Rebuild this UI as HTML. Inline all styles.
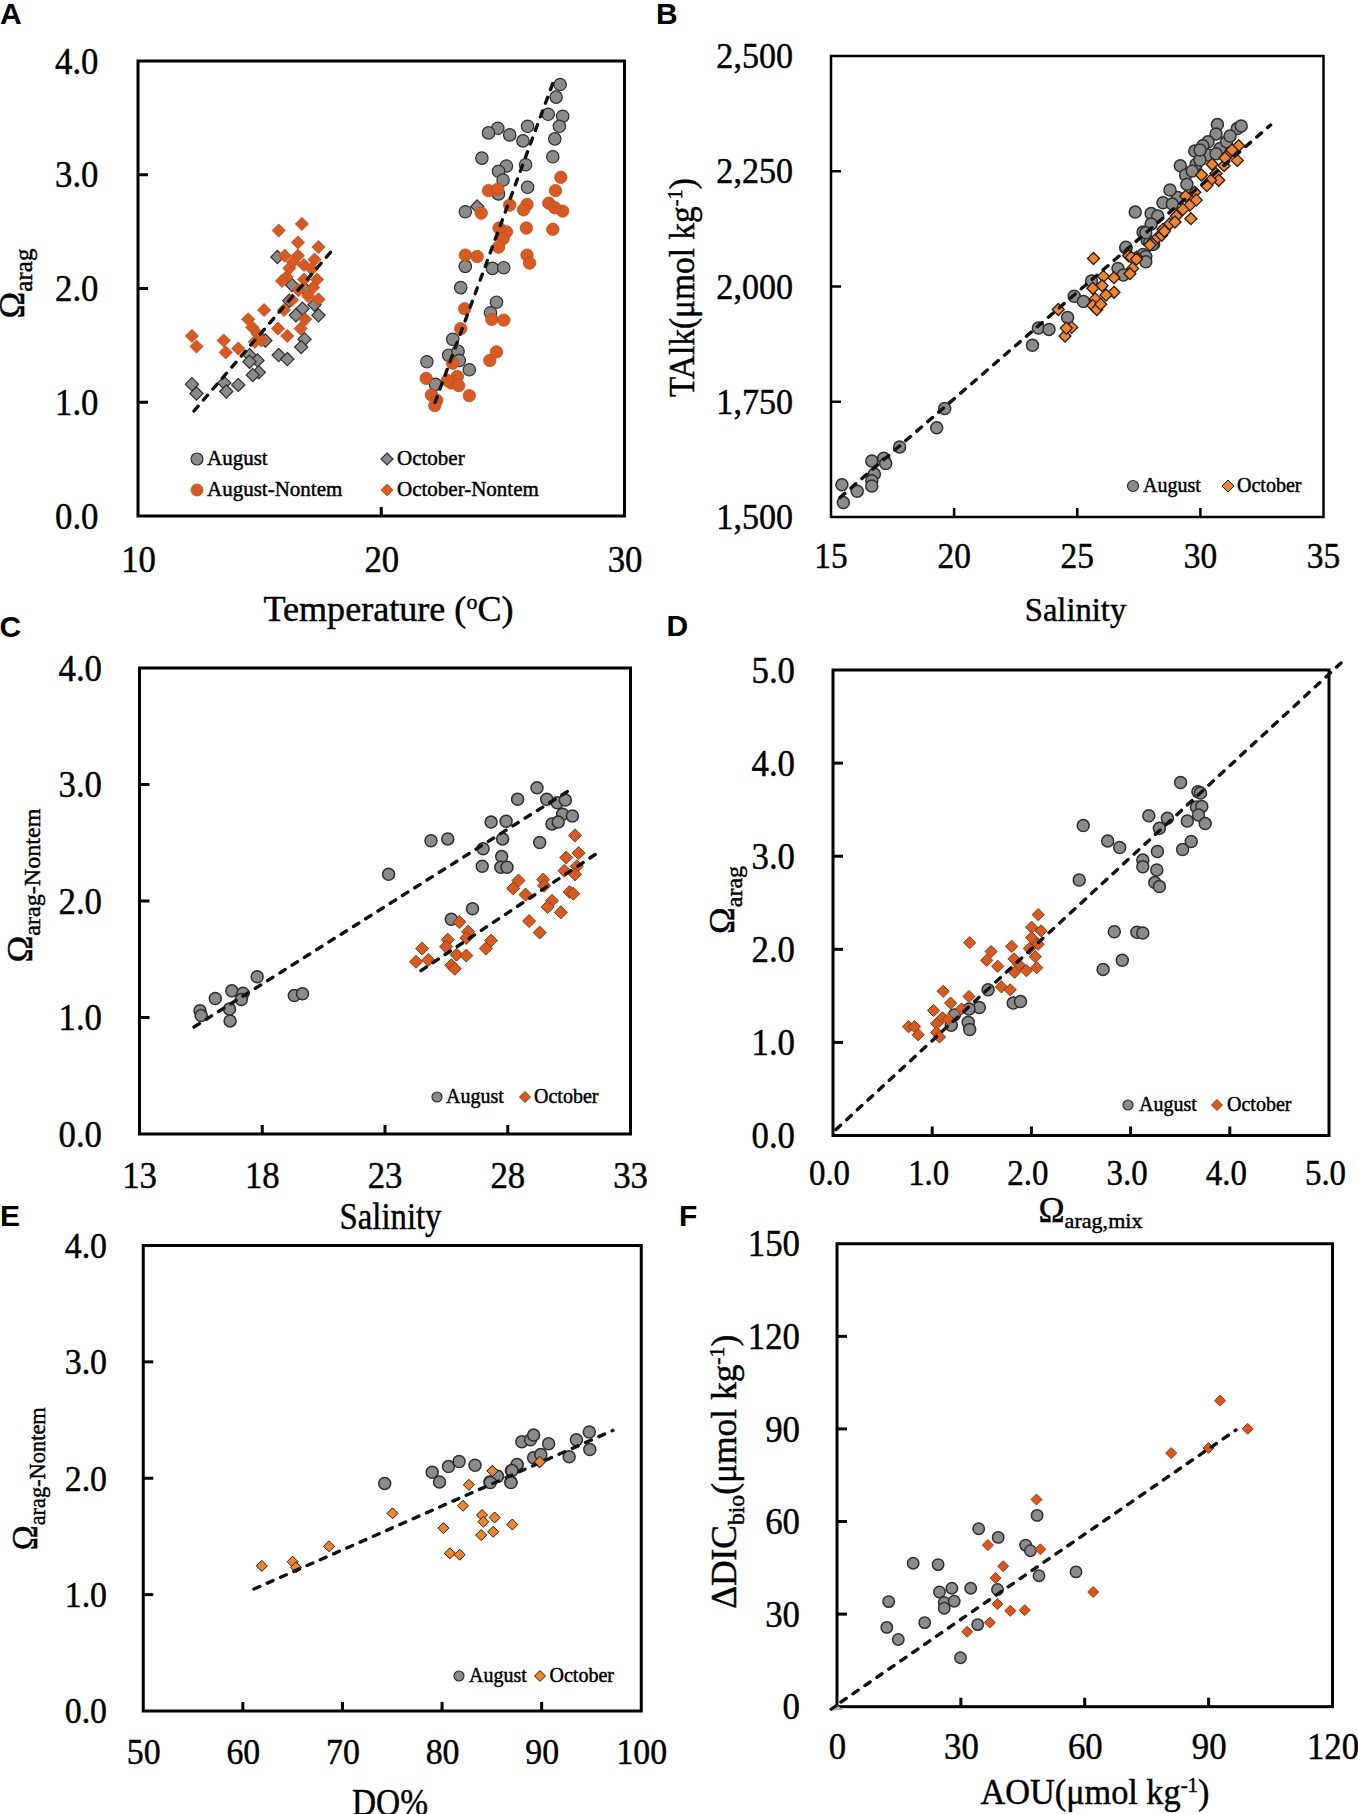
<!DOCTYPE html>
<html><head><meta charset="utf-8"><style>
html,body{margin:0;padding:0;background:#fff;}
svg{display:block;}
text{stroke:#000;stroke-width:0.45px;}
text[font-weight="bold"]{stroke:none;}
</style></head><body>
<svg width="1358" height="1814" viewBox="0 0 1358 1814">
<rect width="1358" height="1814" fill="#fff"/>
<g>
<text x="0" y="24" text-anchor="start" font-size="30" font-weight="bold" font-family='"Liberation Sans", sans-serif' >A</text>
<text x="656" y="24.3" text-anchor="start" font-size="30" font-weight="bold" font-family='"Liberation Sans", sans-serif' >B</text>
<text x="-0.5" y="637" text-anchor="start" font-size="30" font-weight="bold" font-family='"Liberation Sans", sans-serif' >C</text>
<text x="666.6" y="636.4" text-anchor="start" font-size="30" font-weight="bold" font-family='"Liberation Sans", sans-serif' >D</text>
<text x="0" y="1226.4" text-anchor="start" font-size="30" font-weight="bold" font-family='"Liberation Sans", sans-serif' >E</text>
<text x="679" y="1226.4" text-anchor="start" font-size="30" font-weight="bold" font-family='"Liberation Sans", sans-serif' >F</text>
<rect x="138" y="61" width="486.5" height="455" fill="none" stroke="#000" stroke-width="3"/>
<text transform="translate(98.5,516.0) scale(0.94,1)" dy="0.34em" text-anchor="end" font-size="37" font-family='"Liberation Serif", serif'>0.0</text>
<line x1="138" y1="402.25" x2="148" y2="402.25" stroke="#000" stroke-width="3"/>
<text transform="translate(98.5,402.25) scale(0.94,1)" dy="0.34em" text-anchor="end" font-size="37" font-family='"Liberation Serif", serif'>1.0</text>
<line x1="138" y1="288.5" x2="148" y2="288.5" stroke="#000" stroke-width="3"/>
<text transform="translate(98.5,288.5) scale(0.94,1)" dy="0.34em" text-anchor="end" font-size="37" font-family='"Liberation Serif", serif'>2.0</text>
<line x1="138" y1="174.75" x2="148" y2="174.75" stroke="#000" stroke-width="3"/>
<text transform="translate(98.5,174.75) scale(0.94,1)" dy="0.34em" text-anchor="end" font-size="37" font-family='"Liberation Serif", serif'>3.0</text>
<text transform="translate(98.5,61.0) scale(0.94,1)" dy="0.34em" text-anchor="end" font-size="37" font-family='"Liberation Serif", serif'>4.0</text>
<text transform="translate(138.5,572) scale(0.94,1)" text-anchor="middle" font-size="37" font-family='"Liberation Serif", serif'>10</text>
<line x1="381.25" y1="516" x2="381.25" y2="507" stroke="#000" stroke-width="3"/>
<text transform="translate(381.75,572) scale(0.94,1)" text-anchor="middle" font-size="37" font-family='"Liberation Serif", serif'>20</text>
<text transform="translate(625.0,572) scale(0.94,1)" text-anchor="middle" font-size="37" font-family='"Liberation Serif", serif'>30</text>
<text x="388.5" y="620.5" text-anchor="middle" font-size="36" font-weight="normal" font-family='"Liberation Serif", serif' textLength="250" lengthAdjust="spacingAndGlyphs" >Temperature (<tspan baseline-shift="super" font-size="22">o</tspan>C)</text>
<text transform="translate(24,283.5) rotate(-90)" text-anchor="middle" font-size="36" font-family='"Liberation Serif", serif'>Ω<tspan font-size="25" dy="8">arag</tspan></text>
<path d="M277.4 250.4L284.0 257.0L277.4 263.6L270.8 257.0Z" fill="#8b8b8b" stroke="#2e2e2e" stroke-width="1.2"/>
<path d="M302.5 302.1L309.1 308.7L302.5 315.3L295.9 308.7Z" fill="#8b8b8b" stroke="#2e2e2e" stroke-width="1.2"/>
<path d="M295.9 308.7L302.5 315.3L295.9 321.9L289.3 315.3Z" fill="#8b8b8b" stroke="#2e2e2e" stroke-width="1.2"/>
<path d="M318.5 308.7L325.1 315.3L318.5 321.9L311.9 315.3Z" fill="#8b8b8b" stroke="#2e2e2e" stroke-width="1.2"/>
<path d="M314.5 298.1L321.1 304.7L314.5 311.3L307.9 304.7Z" fill="#8b8b8b" stroke="#2e2e2e" stroke-width="1.2"/>
<path d="M304.5 332.6L311.1 339.2L304.5 345.8L297.9 339.2Z" fill="#8b8b8b" stroke="#2e2e2e" stroke-width="1.2"/>
<path d="M301.2 340.5L307.8 347.1L301.2 353.7L294.6 347.1Z" fill="#8b8b8b" stroke="#2e2e2e" stroke-width="1.2"/>
<path d="M278.7 348.5L285.3 355.1L278.7 361.7L272.1 355.1Z" fill="#8b8b8b" stroke="#2e2e2e" stroke-width="1.2"/>
<path d="M287.3 352.5L293.9 359.1L287.3 365.7L280.7 359.1Z" fill="#8b8b8b" stroke="#2e2e2e" stroke-width="1.2"/>
<path d="M249.5 348.5L256.1 355.1L249.5 361.7L242.9 355.1Z" fill="#8b8b8b" stroke="#2e2e2e" stroke-width="1.2"/>
<path d="M257.5 353.8L264.1 360.4L257.5 367.0L250.9 360.4Z" fill="#8b8b8b" stroke="#2e2e2e" stroke-width="1.2"/>
<path d="M249.5 355.1L256.1 361.7L249.5 368.3L242.9 361.7Z" fill="#8b8b8b" stroke="#2e2e2e" stroke-width="1.2"/>
<path d="M258.8 365.7L265.4 372.3L258.8 378.9L252.2 372.3Z" fill="#8b8b8b" stroke="#2e2e2e" stroke-width="1.2"/>
<path d="M252.8 368.4L259.4 375.0L252.8 381.6L246.2 375.0Z" fill="#8b8b8b" stroke="#2e2e2e" stroke-width="1.2"/>
<path d="M238.3 378.3L244.9 384.9L238.3 391.5L231.7 384.9Z" fill="#8b8b8b" stroke="#2e2e2e" stroke-width="1.2"/>
<path d="M224.3 376.3L230.9 382.9L224.3 389.5L217.7 382.9Z" fill="#8b8b8b" stroke="#2e2e2e" stroke-width="1.2"/>
<path d="M226.3 384.9L232.9 391.5L226.3 398.1L219.7 391.5Z" fill="#8b8b8b" stroke="#2e2e2e" stroke-width="1.2"/>
<path d="M191.9 377.6L198.5 384.2L191.9 390.8L185.3 384.2Z" fill="#8b8b8b" stroke="#2e2e2e" stroke-width="1.2"/>
<path d="M196.5 386.9L203.1 393.5L196.5 400.1L189.9 393.5Z" fill="#8b8b8b" stroke="#2e2e2e" stroke-width="1.2"/>
<path d="M265.4 333.9L272.0 340.5L265.4 347.1L258.8 340.5Z" fill="#8b8b8b" stroke="#2e2e2e" stroke-width="1.2"/>
<path d="M289.3 294.1L295.9 300.7L289.3 307.3L282.7 300.7Z" fill="#8b8b8b" stroke="#2e2e2e" stroke-width="1.2"/>
<path d="M292.0 278.4L298.6 285.0L292.0 291.6L285.4 285.0Z" fill="#8b8b8b" stroke="#2e2e2e" stroke-width="1.2"/>
<path d="M306.0 283.4L312.6 290.0L306.0 296.6L299.4 290.0Z" fill="#8b8b8b" stroke="#2e2e2e" stroke-width="1.2"/>
<path d="M278.7 223.9L285.3 230.5L278.7 237.1L272.1 230.5Z" fill="#d65a22" stroke="#c24c1a" stroke-width="0.8"/>
<path d="M301.9 217.3L308.5 223.9L301.9 230.5L295.3 223.9Z" fill="#d65a22" stroke="#c24c1a" stroke-width="0.8"/>
<path d="M297.9 235.8L304.5 242.4L297.9 249.0L291.3 242.4Z" fill="#d65a22" stroke="#c24c1a" stroke-width="0.8"/>
<path d="M318.5 240.4L325.1 247.0L318.5 253.6L311.9 247.0Z" fill="#d65a22" stroke="#c24c1a" stroke-width="0.8"/>
<path d="M284.7 249.1L291.3 255.7L284.7 262.3L278.1 255.7Z" fill="#d65a22" stroke="#c24c1a" stroke-width="0.8"/>
<path d="M297.9 249.1L304.5 255.7L297.9 262.3L291.3 255.7Z" fill="#d65a22" stroke="#c24c1a" stroke-width="0.8"/>
<path d="M314.5 253.0L321.1 259.6L314.5 266.2L307.9 259.6Z" fill="#d65a22" stroke="#c24c1a" stroke-width="0.8"/>
<path d="M289.3 261.7L295.9 268.3L289.3 274.9L282.7 268.3Z" fill="#d65a22" stroke="#c24c1a" stroke-width="0.8"/>
<path d="M303.9 258.4L310.5 265.0L303.9 271.6L297.3 265.0Z" fill="#d65a22" stroke="#c24c1a" stroke-width="0.8"/>
<path d="M311.8 262.3L318.4 268.9L311.8 275.5L305.2 268.9Z" fill="#d65a22" stroke="#c24c1a" stroke-width="0.8"/>
<path d="M286.6 270.3L293.2 276.9L286.6 283.5L280.0 276.9Z" fill="#d65a22" stroke="#c24c1a" stroke-width="0.8"/>
<path d="M282.0 274.3L288.6 280.9L282.0 287.5L275.4 280.9Z" fill="#d65a22" stroke="#c24c1a" stroke-width="0.8"/>
<path d="M303.9 272.9L310.5 279.5L303.9 286.1L297.3 279.5Z" fill="#d65a22" stroke="#c24c1a" stroke-width="0.8"/>
<path d="M317.1 272.9L323.7 279.5L317.1 286.1L310.5 279.5Z" fill="#d65a22" stroke="#c24c1a" stroke-width="0.8"/>
<path d="M298.6 283.5L305.2 290.1L298.6 296.7L292.0 290.1Z" fill="#d65a22" stroke="#c24c1a" stroke-width="0.8"/>
<path d="M313.2 280.9L319.8 287.5L313.2 294.1L306.6 287.5Z" fill="#d65a22" stroke="#c24c1a" stroke-width="0.8"/>
<path d="M318.5 292.8L325.1 299.4L318.5 306.0L311.9 299.4Z" fill="#d65a22" stroke="#c24c1a" stroke-width="0.8"/>
<path d="M284.0 303.4L290.6 310.0L284.0 316.6L277.4 310.0Z" fill="#d65a22" stroke="#c24c1a" stroke-width="0.8"/>
<path d="M264.1 303.4L270.7 310.0L264.1 316.6L257.5 310.0Z" fill="#d65a22" stroke="#c24c1a" stroke-width="0.8"/>
<path d="M305.2 312.7L311.8 319.3L305.2 325.9L298.6 319.3Z" fill="#d65a22" stroke="#c24c1a" stroke-width="0.8"/>
<path d="M300.6 322.0L307.2 328.6L300.6 335.2L294.0 328.6Z" fill="#d65a22" stroke="#c24c1a" stroke-width="0.8"/>
<path d="M278.0 322.0L284.6 328.6L278.0 335.2L271.4 328.6Z" fill="#d65a22" stroke="#c24c1a" stroke-width="0.8"/>
<path d="M287.3 329.3L293.9 335.9L287.3 342.5L280.7 335.9Z" fill="#d65a22" stroke="#c24c1a" stroke-width="0.8"/>
<path d="M248.2 312.7L254.8 319.3L248.2 325.9L241.6 319.3Z" fill="#d65a22" stroke="#c24c1a" stroke-width="0.8"/>
<path d="M252.2 320.7L258.8 327.3L252.2 333.9L245.6 327.3Z" fill="#d65a22" stroke="#c24c1a" stroke-width="0.8"/>
<path d="M257.5 327.3L264.1 333.9L257.5 340.5L250.9 333.9Z" fill="#d65a22" stroke="#c24c1a" stroke-width="0.8"/>
<path d="M254.8 335.2L261.4 341.8L254.8 348.4L248.2 341.8Z" fill="#d65a22" stroke="#c24c1a" stroke-width="0.8"/>
<path d="M261.5 333.9L268.1 340.5L261.5 347.1L254.9 340.5Z" fill="#d65a22" stroke="#c24c1a" stroke-width="0.8"/>
<path d="M191.9 329.3L198.5 335.9L191.9 342.5L185.3 335.9Z" fill="#d65a22" stroke="#c24c1a" stroke-width="0.8"/>
<path d="M196.5 339.9L203.1 346.5L196.5 353.1L189.9 346.5Z" fill="#d65a22" stroke="#c24c1a" stroke-width="0.8"/>
<path d="M223.7 333.9L230.3 340.5L223.7 347.1L217.1 340.5Z" fill="#d65a22" stroke="#c24c1a" stroke-width="0.8"/>
<path d="M225.7 345.8L232.3 352.4L225.7 359.0L219.1 352.4Z" fill="#d65a22" stroke="#c24c1a" stroke-width="0.8"/>
<path d="M238.3 341.9L244.9 348.5L238.3 355.1L231.7 348.5Z" fill="#d65a22" stroke="#c24c1a" stroke-width="0.8"/>
<path d="M292.0 293.4L298.6 300.0L292.0 306.6L285.4 300.0Z" fill="#d65a22" stroke="#c24c1a" stroke-width="0.8"/>
<path d="M308.0 289.4L314.6 296.0L308.0 302.6L301.4 296.0Z" fill="#d65a22" stroke="#c24c1a" stroke-width="0.8"/>
<path d="M293.0 255.4L299.6 262.0L293.0 268.6L286.4 262.0Z" fill="#d65a22" stroke="#c24c1a" stroke-width="0.8"/>
<circle cx="560.1" cy="84.5" r="6.2" fill="#8b8b8b" stroke="#2e2e2e" stroke-width="1.2"/>
<circle cx="556.1" cy="97.1" r="6.2" fill="#8b8b8b" stroke="#2e2e2e" stroke-width="1.2"/>
<circle cx="548.2" cy="114.3" r="6.2" fill="#8b8b8b" stroke="#2e2e2e" stroke-width="1.2"/>
<circle cx="562.7" cy="116.3" r="6.2" fill="#8b8b8b" stroke="#2e2e2e" stroke-width="1.2"/>
<circle cx="559.4" cy="126.3" r="6.2" fill="#8b8b8b" stroke="#2e2e2e" stroke-width="1.2"/>
<circle cx="554.8" cy="138.9" r="6.2" fill="#8b8b8b" stroke="#2e2e2e" stroke-width="1.2"/>
<circle cx="552.8" cy="156.8" r="6.2" fill="#8b8b8b" stroke="#2e2e2e" stroke-width="1.2"/>
<circle cx="527.6" cy="126.3" r="6.2" fill="#8b8b8b" stroke="#2e2e2e" stroke-width="1.2"/>
<circle cx="523" cy="140.9" r="6.2" fill="#8b8b8b" stroke="#2e2e2e" stroke-width="1.2"/>
<circle cx="509.7" cy="134.9" r="6.2" fill="#8b8b8b" stroke="#2e2e2e" stroke-width="1.2"/>
<circle cx="497.8" cy="128.3" r="6.2" fill="#8b8b8b" stroke="#2e2e2e" stroke-width="1.2"/>
<circle cx="488.5" cy="132.9" r="6.2" fill="#8b8b8b" stroke="#2e2e2e" stroke-width="1.2"/>
<circle cx="481.9" cy="158.1" r="6.2" fill="#8b8b8b" stroke="#2e2e2e" stroke-width="1.2"/>
<circle cx="506.4" cy="166" r="6.2" fill="#8b8b8b" stroke="#2e2e2e" stroke-width="1.2"/>
<circle cx="498.5" cy="171.3" r="6.2" fill="#8b8b8b" stroke="#2e2e2e" stroke-width="1.2"/>
<circle cx="503.1" cy="180" r="6.2" fill="#8b8b8b" stroke="#2e2e2e" stroke-width="1.2"/>
<circle cx="525.6" cy="164.7" r="6.2" fill="#8b8b8b" stroke="#2e2e2e" stroke-width="1.2"/>
<circle cx="527.6" cy="187.3" r="6.2" fill="#8b8b8b" stroke="#2e2e2e" stroke-width="1.2"/>
<circle cx="465.3" cy="211.8" r="6.2" fill="#8b8b8b" stroke="#2e2e2e" stroke-width="1.2"/>
<circle cx="498.5" cy="193.9" r="6.2" fill="#8b8b8b" stroke="#2e2e2e" stroke-width="1.2"/>
<circle cx="465.3" cy="266.4" r="6.2" fill="#8b8b8b" stroke="#2e2e2e" stroke-width="1.2"/>
<circle cx="492.5" cy="268.4" r="6.2" fill="#8b8b8b" stroke="#2e2e2e" stroke-width="1.2"/>
<circle cx="503.8" cy="267.7" r="6.2" fill="#8b8b8b" stroke="#2e2e2e" stroke-width="1.2"/>
<circle cx="460.7" cy="287.6" r="6.2" fill="#8b8b8b" stroke="#2e2e2e" stroke-width="1.2"/>
<circle cx="496.5" cy="302.2" r="6.2" fill="#8b8b8b" stroke="#2e2e2e" stroke-width="1.2"/>
<circle cx="490.5" cy="312.8" r="6.2" fill="#8b8b8b" stroke="#2e2e2e" stroke-width="1.2"/>
<circle cx="452.7" cy="339.3" r="6.2" fill="#8b8b8b" stroke="#2e2e2e" stroke-width="1.2"/>
<circle cx="448.7" cy="355.2" r="6.2" fill="#8b8b8b" stroke="#2e2e2e" stroke-width="1.2"/>
<circle cx="458" cy="351.2" r="6.2" fill="#8b8b8b" stroke="#2e2e2e" stroke-width="1.2"/>
<circle cx="459.3" cy="360.5" r="6.2" fill="#8b8b8b" stroke="#2e2e2e" stroke-width="1.2"/>
<circle cx="426.9" cy="361.8" r="6.2" fill="#8b8b8b" stroke="#2e2e2e" stroke-width="1.2"/>
<circle cx="469.3" cy="369.8" r="6.2" fill="#8b8b8b" stroke="#2e2e2e" stroke-width="1.2"/>
<circle cx="435.5" cy="384.4" r="6.2" fill="#8b8b8b" stroke="#2e2e2e" stroke-width="1.2"/>
<path d="M477.2 199.9L483.8 206.5L477.2 213.1L470.6 206.5Z" fill="#8b8b8b" stroke="#2e2e2e" stroke-width="1.2"/>
<circle cx="560.8" cy="177.3" r="6.2" fill="#d65a22" stroke="#c24c1a" stroke-width="0.8"/>
<circle cx="555.5" cy="190.6" r="6.2" fill="#d65a22" stroke="#c24c1a" stroke-width="0.8"/>
<circle cx="548.8" cy="203.2" r="6.2" fill="#d65a22" stroke="#c24c1a" stroke-width="0.8"/>
<circle cx="562.7" cy="211.1" r="6.2" fill="#d65a22" stroke="#c24c1a" stroke-width="0.8"/>
<circle cx="554.8" cy="207.8" r="6.2" fill="#d65a22" stroke="#c24c1a" stroke-width="0.8"/>
<circle cx="527" cy="204.5" r="6.2" fill="#d65a22" stroke="#c24c1a" stroke-width="0.8"/>
<circle cx="523.6" cy="209.8" r="6.2" fill="#d65a22" stroke="#c24c1a" stroke-width="0.8"/>
<circle cx="509.7" cy="205.1" r="6.2" fill="#d65a22" stroke="#c24c1a" stroke-width="0.8"/>
<circle cx="488.5" cy="190.6" r="6.2" fill="#d65a22" stroke="#c24c1a" stroke-width="0.8"/>
<circle cx="497.8" cy="189.2" r="6.2" fill="#d65a22" stroke="#c24c1a" stroke-width="0.8"/>
<circle cx="481.2" cy="213.1" r="6.2" fill="#d65a22" stroke="#c24c1a" stroke-width="0.8"/>
<circle cx="499.1" cy="228" r="6.2" fill="#d65a22" stroke="#c24c1a" stroke-width="0.8"/>
<circle cx="506.4" cy="231.9" r="6.2" fill="#d65a22" stroke="#c24c1a" stroke-width="0.8"/>
<circle cx="503.1" cy="238.6" r="6.2" fill="#d65a22" stroke="#c24c1a" stroke-width="0.8"/>
<circle cx="498.5" cy="247.2" r="6.2" fill="#d65a22" stroke="#c24c1a" stroke-width="0.8"/>
<circle cx="526.3" cy="228" r="6.2" fill="#d65a22" stroke="#c24c1a" stroke-width="0.8"/>
<circle cx="552.8" cy="229.3" r="6.2" fill="#d65a22" stroke="#c24c1a" stroke-width="0.8"/>
<circle cx="465.3" cy="255.1" r="6.2" fill="#d65a22" stroke="#c24c1a" stroke-width="0.8"/>
<circle cx="477.2" cy="256.5" r="6.2" fill="#d65a22" stroke="#c24c1a" stroke-width="0.8"/>
<circle cx="527" cy="255.1" r="6.2" fill="#d65a22" stroke="#c24c1a" stroke-width="0.8"/>
<circle cx="529.6" cy="263.1" r="6.2" fill="#d65a22" stroke="#c24c1a" stroke-width="0.8"/>
<circle cx="464.7" cy="308.8" r="6.2" fill="#d65a22" stroke="#c24c1a" stroke-width="0.8"/>
<circle cx="460.7" cy="328.7" r="6.2" fill="#d65a22" stroke="#c24c1a" stroke-width="0.8"/>
<circle cx="491.8" cy="319.4" r="6.2" fill="#d65a22" stroke="#c24c1a" stroke-width="0.8"/>
<circle cx="503.8" cy="320.1" r="6.2" fill="#d65a22" stroke="#c24c1a" stroke-width="0.8"/>
<circle cx="496.5" cy="351.9" r="6.2" fill="#d65a22" stroke="#c24c1a" stroke-width="0.8"/>
<circle cx="489.8" cy="360.5" r="6.2" fill="#d65a22" stroke="#c24c1a" stroke-width="0.8"/>
<circle cx="452.7" cy="363.2" r="6.2" fill="#d65a22" stroke="#c24c1a" stroke-width="0.8"/>
<circle cx="426.2" cy="378.4" r="6.2" fill="#d65a22" stroke="#c24c1a" stroke-width="0.8"/>
<circle cx="457.4" cy="376.4" r="6.2" fill="#d65a22" stroke="#c24c1a" stroke-width="0.8"/>
<circle cx="451.4" cy="383" r="6.2" fill="#d65a22" stroke="#c24c1a" stroke-width="0.8"/>
<circle cx="458.7" cy="385.7" r="6.2" fill="#d65a22" stroke="#c24c1a" stroke-width="0.8"/>
<circle cx="431.5" cy="395" r="6.2" fill="#d65a22" stroke="#c24c1a" stroke-width="0.8"/>
<circle cx="436.8" cy="400.3" r="6.2" fill="#d65a22" stroke="#c24c1a" stroke-width="0.8"/>
<circle cx="434.8" cy="405.6" r="6.2" fill="#d65a22" stroke="#c24c1a" stroke-width="0.8"/>
<circle cx="469.3" cy="395.6" r="6.2" fill="#d65a22" stroke="#c24c1a" stroke-width="0.8"/>
<circle cx="447.4" cy="380.4" r="6.2" fill="#d65a22" stroke="#c24c1a" stroke-width="0.8"/>
<line x1="194" y1="411" x2="332.5" y2="250" stroke="#111" stroke-width="3.4" stroke-dasharray="6.3 8.2" stroke-linecap="round"/>
<line x1="435" y1="402.5" x2="554" y2="80" stroke="#111" stroke-width="3.4" stroke-dasharray="6.3 8.2" stroke-linecap="round"/>
<circle cx="197" cy="459" r="6" fill="#8b8b8b" stroke="#2e2e2e" stroke-width="1.2"/>
<text x="207" y="465" text-anchor="start" font-size="21" font-weight="normal" font-family='"Liberation Serif", serif' >August</text>
<path d="M387.0 453.0L393.0 459.0L387.0 465.0L381.0 459.0Z" fill="#8b8b8b" stroke="#2e2e2e" stroke-width="1.2"/>
<text x="397" y="465" text-anchor="start" font-size="21" font-weight="normal" font-family='"Liberation Serif", serif' >October</text>
<circle cx="197" cy="490" r="6" fill="#d65a22" stroke="#c24c1a" stroke-width="0.8"/>
<text x="207" y="496" text-anchor="start" font-size="21" font-weight="normal" font-family='"Liberation Serif", serif' >August-Nontem</text>
<path d="M387.0 484.0L393.0 490.0L387.0 496.0L381.0 490.0Z" fill="#d65a22" stroke="#c24c1a" stroke-width="0.8"/>
<text x="397" y="496" text-anchor="start" font-size="21" font-weight="normal" font-family='"Liberation Serif", serif' >October-Nontem</text>
<rect x="831" y="56" width="492.5" height="461" fill="none" stroke="#000" stroke-width="2.5"/>
<text transform="translate(793,517.0) scale(0.96,1)" dy="0.34em" text-anchor="end" font-size="35.5" font-family='"Liberation Serif", serif'>1,500</text>
<line x1="831" y1="401.75" x2="841" y2="401.75" stroke="#000" stroke-width="2.5"/>
<text transform="translate(793,401.75) scale(0.96,1)" dy="0.34em" text-anchor="end" font-size="35.5" font-family='"Liberation Serif", serif'>1,750</text>
<line x1="831" y1="286.5" x2="841" y2="286.5" stroke="#000" stroke-width="2.5"/>
<text transform="translate(793,286.5) scale(0.96,1)" dy="0.34em" text-anchor="end" font-size="35.5" font-family='"Liberation Serif", serif'>2,000</text>
<line x1="831" y1="171.25" x2="841" y2="171.25" stroke="#000" stroke-width="2.5"/>
<text transform="translate(793,171.25) scale(0.96,1)" dy="0.34em" text-anchor="end" font-size="35.5" font-family='"Liberation Serif", serif'>2,250</text>
<text transform="translate(793,56.0) scale(0.96,1)" dy="0.34em" text-anchor="end" font-size="35.5" font-family='"Liberation Serif", serif'>2,500</text>
<text transform="translate(831.0,567.5) scale(0.94,1)" text-anchor="middle" font-size="35.5" font-family='"Liberation Serif", serif'>15</text>
<line x1="954.125" y1="517" x2="954.125" y2="508" stroke="#000" stroke-width="2.5"/>
<text transform="translate(954.125,567.5) scale(0.94,1)" text-anchor="middle" font-size="35.5" font-family='"Liberation Serif", serif'>20</text>
<line x1="1077.25" y1="517" x2="1077.25" y2="508" stroke="#000" stroke-width="2.5"/>
<text transform="translate(1077.25,567.5) scale(0.94,1)" text-anchor="middle" font-size="35.5" font-family='"Liberation Serif", serif'>25</text>
<line x1="1200.375" y1="517" x2="1200.375" y2="508" stroke="#000" stroke-width="2.5"/>
<text transform="translate(1200.375,567.5) scale(0.94,1)" text-anchor="middle" font-size="35.5" font-family='"Liberation Serif", serif'>30</text>
<text transform="translate(1323.5,567.5) scale(0.94,1)" text-anchor="middle" font-size="35.5" font-family='"Liberation Serif", serif'>35</text>
<text x="1075.5" y="620.5" text-anchor="middle" font-size="34.5" font-weight="normal" font-family='"Liberation Serif", serif' textLength="101.5" lengthAdjust="spacingAndGlyphs" >Salinity</text>
<text transform="translate(694,287.5) rotate(-90)" text-anchor="middle" font-size="36" font-family='"Liberation Serif", serif' textLength="219" lengthAdjust="spacingAndGlyphs">TAlk(μmol kg<tspan baseline-shift="super" font-size="22">-1</tspan>)</text>
<circle cx="1217.4" cy="124.6" r="6" fill="#8b8b8b" stroke="#2e2e2e" stroke-width="1.5"/>
<circle cx="1237.3" cy="128.6" r="6" fill="#8b8b8b" stroke="#2e2e2e" stroke-width="1.5"/>
<circle cx="1241.2" cy="125.9" r="6" fill="#8b8b8b" stroke="#2e2e2e" stroke-width="1.5"/>
<circle cx="1216" cy="133.9" r="6" fill="#8b8b8b" stroke="#2e2e2e" stroke-width="1.5"/>
<circle cx="1208.1" cy="141.8" r="6" fill="#8b8b8b" stroke="#2e2e2e" stroke-width="1.5"/>
<circle cx="1202.8" cy="145.8" r="6" fill="#8b8b8b" stroke="#2e2e2e" stroke-width="1.5"/>
<circle cx="1220" cy="148.4" r="6" fill="#8b8b8b" stroke="#2e2e2e" stroke-width="1.5"/>
<circle cx="1226.6" cy="141.8" r="6" fill="#8b8b8b" stroke="#2e2e2e" stroke-width="1.5"/>
<circle cx="1194.8" cy="151.1" r="6" fill="#8b8b8b" stroke="#2e2e2e" stroke-width="1.5"/>
<circle cx="1208.1" cy="155.1" r="6" fill="#8b8b8b" stroke="#2e2e2e" stroke-width="1.5"/>
<circle cx="1216" cy="153.7" r="6" fill="#8b8b8b" stroke="#2e2e2e" stroke-width="1.5"/>
<circle cx="1180.3" cy="165.7" r="6" fill="#8b8b8b" stroke="#2e2e2e" stroke-width="1.5"/>
<circle cx="1196.2" cy="164.3" r="6" fill="#8b8b8b" stroke="#2e2e2e" stroke-width="1.5"/>
<circle cx="1185.6" cy="175" r="6" fill="#8b8b8b" stroke="#2e2e2e" stroke-width="1.5"/>
<circle cx="1192.2" cy="171" r="6" fill="#8b8b8b" stroke="#2e2e2e" stroke-width="1.5"/>
<circle cx="1186.9" cy="184.2" r="6" fill="#8b8b8b" stroke="#2e2e2e" stroke-width="1.5"/>
<circle cx="1177.6" cy="197.5" r="6" fill="#8b8b8b" stroke="#2e2e2e" stroke-width="1.5"/>
<circle cx="1163" cy="202.8" r="6" fill="#8b8b8b" stroke="#2e2e2e" stroke-width="1.5"/>
<circle cx="1172.3" cy="204.1" r="6" fill="#8b8b8b" stroke="#2e2e2e" stroke-width="1.5"/>
<circle cx="1135.2" cy="212.1" r="6" fill="#8b8b8b" stroke="#2e2e2e" stroke-width="1.5"/>
<circle cx="1151.1" cy="213.4" r="6" fill="#8b8b8b" stroke="#2e2e2e" stroke-width="1.5"/>
<circle cx="1157.7" cy="216" r="6" fill="#8b8b8b" stroke="#2e2e2e" stroke-width="1.5"/>
<circle cx="1151.1" cy="224" r="6" fill="#8b8b8b" stroke="#2e2e2e" stroke-width="1.5"/>
<circle cx="1143.1" cy="232" r="6" fill="#8b8b8b" stroke="#2e2e2e" stroke-width="1.5"/>
<circle cx="1147.1" cy="239.9" r="6" fill="#8b8b8b" stroke="#2e2e2e" stroke-width="1.5"/>
<circle cx="1153.7" cy="243.9" r="6" fill="#8b8b8b" stroke="#2e2e2e" stroke-width="1.5"/>
<circle cx="1125.9" cy="247.9" r="6" fill="#8b8b8b" stroke="#2e2e2e" stroke-width="1.5"/>
<circle cx="1143.1" cy="254.5" r="6" fill="#8b8b8b" stroke="#2e2e2e" stroke-width="1.5"/>
<circle cx="1125.9" cy="247.2" r="6" fill="#8b8b8b" stroke="#2e2e2e" stroke-width="1.5"/>
<circle cx="1145.8" cy="256.5" r="6" fill="#8b8b8b" stroke="#2e2e2e" stroke-width="1.5"/>
<circle cx="1145.8" cy="261.8" r="6" fill="#8b8b8b" stroke="#2e2e2e" stroke-width="1.5"/>
<circle cx="1118" cy="268.4" r="6" fill="#8b8b8b" stroke="#2e2e2e" stroke-width="1.5"/>
<circle cx="1123.3" cy="275.1" r="6" fill="#8b8b8b" stroke="#2e2e2e" stroke-width="1.5"/>
<circle cx="1091.5" cy="281" r="6" fill="#8b8b8b" stroke="#2e2e2e" stroke-width="1.5"/>
<circle cx="1074.2" cy="296.3" r="6" fill="#8b8b8b" stroke="#2e2e2e" stroke-width="1.5"/>
<circle cx="1083.5" cy="301.6" r="6" fill="#8b8b8b" stroke="#2e2e2e" stroke-width="1.5"/>
<circle cx="1067.6" cy="317.5" r="6" fill="#8b8b8b" stroke="#2e2e2e" stroke-width="1.5"/>
<circle cx="1038.4" cy="328.1" r="6" fill="#8b8b8b" stroke="#2e2e2e" stroke-width="1.5"/>
<circle cx="1049" cy="329.4" r="6" fill="#8b8b8b" stroke="#2e2e2e" stroke-width="1.5"/>
<circle cx="1032.5" cy="345.3" r="6" fill="#8b8b8b" stroke="#2e2e2e" stroke-width="1.5"/>
<circle cx="1149.8" cy="241.9" r="6" fill="#8b8b8b" stroke="#2e2e2e" stroke-width="1.5"/>
<circle cx="1152.4" cy="244.6" r="6" fill="#8b8b8b" stroke="#2e2e2e" stroke-width="1.5"/>
<circle cx="1145.8" cy="232.7" r="6" fill="#8b8b8b" stroke="#2e2e2e" stroke-width="1.5"/>
<circle cx="944.7" cy="408.5" r="6" fill="#8b8b8b" stroke="#2e2e2e" stroke-width="1.5"/>
<circle cx="936.7" cy="427.7" r="6" fill="#8b8b8b" stroke="#2e2e2e" stroke-width="1.5"/>
<circle cx="899.6" cy="446.9" r="6" fill="#8b8b8b" stroke="#2e2e2e" stroke-width="1.5"/>
<circle cx="871.8" cy="460.9" r="6" fill="#8b8b8b" stroke="#2e2e2e" stroke-width="1.5"/>
<circle cx="883.7" cy="458.2" r="6" fill="#8b8b8b" stroke="#2e2e2e" stroke-width="1.5"/>
<circle cx="885.7" cy="463.5" r="6" fill="#8b8b8b" stroke="#2e2e2e" stroke-width="1.5"/>
<circle cx="874.4" cy="474.1" r="6" fill="#8b8b8b" stroke="#2e2e2e" stroke-width="1.5"/>
<circle cx="871.8" cy="480.7" r="6" fill="#8b8b8b" stroke="#2e2e2e" stroke-width="1.5"/>
<circle cx="871.8" cy="486" r="6" fill="#8b8b8b" stroke="#2e2e2e" stroke-width="1.5"/>
<circle cx="841.9" cy="484.7" r="6" fill="#8b8b8b" stroke="#2e2e2e" stroke-width="1.5"/>
<circle cx="857.2" cy="491.3" r="6" fill="#8b8b8b" stroke="#2e2e2e" stroke-width="1.5"/>
<circle cx="843.3" cy="502.6" r="6" fill="#8b8b8b" stroke="#2e2e2e" stroke-width="1.5"/>
<circle cx="1230" cy="136" r="6" fill="#8b8b8b" stroke="#2e2e2e" stroke-width="1.5"/>
<circle cx="1200" cy="160" r="6" fill="#8b8b8b" stroke="#2e2e2e" stroke-width="1.5"/>
<circle cx="1170" cy="190" r="6" fill="#8b8b8b" stroke="#2e2e2e" stroke-width="1.5"/>
<circle cx="1200" cy="150" r="6" fill="#8b8b8b" stroke="#2e2e2e" stroke-width="1.5"/>
<path d="M1238.6 139.8L1244.6 145.8L1238.6 151.8L1232.6 145.8Z" fill="#f08530" stroke="#2a1a0a" stroke-width="1.3"/>
<path d="M1237.3 154.4L1243.3 160.4L1237.3 166.4L1231.3 160.4Z" fill="#f08530" stroke="#2a1a0a" stroke-width="1.3"/>
<path d="M1229.3 147.7L1235.3 153.7L1229.3 159.7L1223.3 153.7Z" fill="#f08530" stroke="#2a1a0a" stroke-width="1.3"/>
<path d="M1224.0 159.7L1230.0 165.7L1224.0 171.7L1218.0 165.7Z" fill="#f08530" stroke="#2a1a0a" stroke-width="1.3"/>
<path d="M1212.1 158.3L1218.1 164.3L1212.1 170.3L1206.1 164.3Z" fill="#f08530" stroke="#2a1a0a" stroke-width="1.3"/>
<path d="M1216.0 167.6L1222.0 173.6L1216.0 179.6L1210.0 173.6Z" fill="#f08530" stroke="#2a1a0a" stroke-width="1.3"/>
<path d="M1218.7 174.3L1224.7 180.3L1218.7 186.3L1212.7 180.3Z" fill="#f08530" stroke="#2a1a0a" stroke-width="1.3"/>
<path d="M1201.5 169.0L1207.5 175.0L1201.5 181.0L1195.5 175.0Z" fill="#f08530" stroke="#2a1a0a" stroke-width="1.3"/>
<path d="M1210.7 174.3L1216.7 180.3L1210.7 186.3L1204.7 180.3Z" fill="#f08530" stroke="#2a1a0a" stroke-width="1.3"/>
<path d="M1206.8 179.6L1212.8 185.6L1206.8 191.6L1200.8 185.6Z" fill="#f08530" stroke="#2a1a0a" stroke-width="1.3"/>
<path d="M1194.8 186.2L1200.8 192.2L1194.8 198.2L1188.8 192.2Z" fill="#f08530" stroke="#2a1a0a" stroke-width="1.3"/>
<path d="M1196.2 194.1L1202.2 200.1L1196.2 206.1L1190.2 200.1Z" fill="#f08530" stroke="#2a1a0a" stroke-width="1.3"/>
<path d="M1185.6 190.2L1191.6 196.2L1185.6 202.2L1179.6 196.2Z" fill="#f08530" stroke="#2a1a0a" stroke-width="1.3"/>
<path d="M1189.5 199.4L1195.5 205.4L1189.5 211.4L1183.5 205.4Z" fill="#f08530" stroke="#2a1a0a" stroke-width="1.3"/>
<path d="M1182.9 203.4L1188.9 209.4L1182.9 215.4L1176.9 209.4Z" fill="#f08530" stroke="#2a1a0a" stroke-width="1.3"/>
<path d="M1190.9 212.7L1196.9 218.7L1190.9 224.7L1184.9 218.7Z" fill="#f08530" stroke="#2a1a0a" stroke-width="1.3"/>
<path d="M1176.3 210.0L1182.3 216.0L1176.3 222.0L1170.3 216.0Z" fill="#f08530" stroke="#2a1a0a" stroke-width="1.3"/>
<path d="M1169.6 218.0L1175.6 224.0L1169.6 230.0L1163.6 224.0Z" fill="#f08530" stroke="#2a1a0a" stroke-width="1.3"/>
<path d="M1163.0 223.3L1169.0 229.3L1163.0 235.3L1157.0 229.3Z" fill="#f08530" stroke="#2a1a0a" stroke-width="1.3"/>
<path d="M1157.7 231.3L1163.7 237.3L1157.7 243.3L1151.7 237.3Z" fill="#f08530" stroke="#2a1a0a" stroke-width="1.3"/>
<path d="M1128.6 249.8L1134.6 255.8L1128.6 261.8L1122.6 255.8Z" fill="#f08530" stroke="#2a1a0a" stroke-width="1.3"/>
<path d="M1136.5 251.1L1142.5 257.1L1136.5 263.1L1130.5 257.1Z" fill="#f08530" stroke="#2a1a0a" stroke-width="1.3"/>
<path d="M1093.5 252.5L1099.5 258.5L1093.5 264.5L1087.5 258.5Z" fill="#f08530" stroke="#2a1a0a" stroke-width="1.3"/>
<path d="M1058.3 303.5L1064.3 309.5L1058.3 315.5L1052.3 309.5Z" fill="#f08530" stroke="#2a1a0a" stroke-width="1.3"/>
<path d="M1071.6 321.4L1077.6 327.4L1071.6 333.4L1065.6 327.4Z" fill="#f08530" stroke="#2a1a0a" stroke-width="1.3"/>
<path d="M1065.0 330.0L1071.0 336.0L1065.0 342.0L1059.0 336.0Z" fill="#f08530" stroke="#2a1a0a" stroke-width="1.3"/>
<path d="M1066.3 322.1L1072.3 328.1L1066.3 334.1L1060.3 328.1Z" fill="#f08530" stroke="#2a1a0a" stroke-width="1.3"/>
<path d="M1131.2 251.2L1137.2 257.2L1131.2 263.2L1125.2 257.2Z" fill="#f08530" stroke="#2a1a0a" stroke-width="1.3"/>
<path d="M1136.5 253.2L1142.5 259.2L1136.5 265.2L1130.5 259.2Z" fill="#f08530" stroke="#2a1a0a" stroke-width="1.3"/>
<path d="M1132.6 262.4L1138.6 268.4L1132.6 274.4L1126.6 268.4Z" fill="#f08530" stroke="#2a1a0a" stroke-width="1.3"/>
<path d="M1129.9 267.7L1135.9 273.7L1129.9 279.7L1123.9 273.7Z" fill="#f08530" stroke="#2a1a0a" stroke-width="1.3"/>
<path d="M1114.0 271.7L1120.0 277.7L1114.0 283.7L1108.0 277.7Z" fill="#f08530" stroke="#2a1a0a" stroke-width="1.3"/>
<path d="M1103.4 270.4L1109.4 276.4L1103.4 282.4L1097.4 276.4Z" fill="#f08530" stroke="#2a1a0a" stroke-width="1.3"/>
<path d="M1102.1 279.7L1108.1 285.7L1102.1 291.7L1096.1 285.7Z" fill="#f08530" stroke="#2a1a0a" stroke-width="1.3"/>
<path d="M1092.8 282.3L1098.8 288.3L1092.8 294.3L1086.8 288.3Z" fill="#f08530" stroke="#2a1a0a" stroke-width="1.3"/>
<path d="M1114.0 286.3L1120.0 292.3L1114.0 298.3L1108.0 292.3Z" fill="#f08530" stroke="#2a1a0a" stroke-width="1.3"/>
<path d="M1106.0 289.0L1112.0 295.0L1106.0 301.0L1100.0 295.0Z" fill="#f08530" stroke="#2a1a0a" stroke-width="1.3"/>
<path d="M1095.4 292.9L1101.4 298.9L1095.4 304.9L1089.4 298.9Z" fill="#f08530" stroke="#2a1a0a" stroke-width="1.3"/>
<path d="M1092.8 299.6L1098.8 305.6L1092.8 311.6L1086.8 305.6Z" fill="#f08530" stroke="#2a1a0a" stroke-width="1.3"/>
<path d="M1096.8 303.5L1102.8 309.5L1096.8 315.5L1090.8 309.5Z" fill="#f08530" stroke="#2a1a0a" stroke-width="1.3"/>
<path d="M1161.7 229.3L1167.7 235.3L1161.7 241.3L1155.7 235.3Z" fill="#f08530" stroke="#2a1a0a" stroke-width="1.3"/>
<path d="M1164.4 225.3L1170.4 231.3L1164.4 237.3L1158.4 231.3Z" fill="#f08530" stroke="#2a1a0a" stroke-width="1.3"/>
<path d="M1100.7 298.2L1106.7 304.2L1100.7 310.2L1094.7 304.2Z" fill="#f08530" stroke="#2a1a0a" stroke-width="1.3"/>
<path d="M1232.0 144.0L1238.0 150.0L1232.0 156.0L1226.0 150.0Z" fill="#f08530" stroke="#2a1a0a" stroke-width="1.3"/>
<path d="M1225.0 152.0L1231.0 158.0L1225.0 164.0L1219.0 158.0Z" fill="#f08530" stroke="#2a1a0a" stroke-width="1.3"/>
<path d="M1150.0 239.0L1156.0 245.0L1150.0 251.0L1144.0 245.0Z" fill="#f08530" stroke="#2a1a0a" stroke-width="1.3"/>
<path d="M1175.0 216.0L1181.0 222.0L1175.0 228.0L1169.0 222.0Z" fill="#f08530" stroke="#2a1a0a" stroke-width="1.3"/>
<line x1="840" y1="497.5" x2="1270.6" y2="125" stroke="#111" stroke-width="3.4" stroke-dasharray="6.3 8.2" stroke-linecap="round"/>
<circle cx="1133" cy="486" r="5.5" fill="#8b8b8b" stroke="#2e2e2e" stroke-width="1.2"/>
<text x="1143" y="492" text-anchor="start" font-size="20" font-weight="normal" font-family='"Liberation Serif", serif' >August</text>
<path d="M1228.0 480.0L1234.0 486.0L1228.0 492.0L1222.0 486.0Z" fill="#f08530" stroke="#2a1a0a" stroke-width="1"/>
<text x="1237" y="492" text-anchor="start" font-size="20" font-weight="normal" font-family='"Liberation Serif", serif' >October</text>
<rect x="139.5" y="668" width="491.0" height="466" fill="none" stroke="#000" stroke-width="3"/>
<text transform="translate(102,1134.0) scale(0.94,1)" dy="0.34em" text-anchor="end" font-size="37" font-family='"Liberation Serif", serif'>0.0</text>
<line x1="139.5" y1="1017.5" x2="149.5" y2="1017.5" stroke="#000" stroke-width="3"/>
<text transform="translate(102,1017.5) scale(0.94,1)" dy="0.34em" text-anchor="end" font-size="37" font-family='"Liberation Serif", serif'>1.0</text>
<line x1="139.5" y1="901.0" x2="149.5" y2="901.0" stroke="#000" stroke-width="3"/>
<text transform="translate(102,901.0) scale(0.94,1)" dy="0.34em" text-anchor="end" font-size="37" font-family='"Liberation Serif", serif'>2.0</text>
<line x1="139.5" y1="784.5" x2="149.5" y2="784.5" stroke="#000" stroke-width="3"/>
<text transform="translate(102,784.5) scale(0.94,1)" dy="0.34em" text-anchor="end" font-size="37" font-family='"Liberation Serif", serif'>3.0</text>
<text transform="translate(102,668.0) scale(0.94,1)" dy="0.34em" text-anchor="end" font-size="37" font-family='"Liberation Serif", serif'>4.0</text>
<text transform="translate(139.5,1188) scale(0.94,1)" text-anchor="middle" font-size="37" font-family='"Liberation Serif", serif'>13</text>
<line x1="262.25" y1="1134" x2="262.25" y2="1125" stroke="#000" stroke-width="3"/>
<text transform="translate(262.25,1188) scale(0.94,1)" text-anchor="middle" font-size="37" font-family='"Liberation Serif", serif'>18</text>
<line x1="385.0" y1="1134" x2="385.0" y2="1125" stroke="#000" stroke-width="3"/>
<text transform="translate(385.0,1188) scale(0.94,1)" text-anchor="middle" font-size="37" font-family='"Liberation Serif", serif'>23</text>
<line x1="507.75" y1="1134" x2="507.75" y2="1125" stroke="#000" stroke-width="3"/>
<text transform="translate(507.75,1188) scale(0.94,1)" text-anchor="middle" font-size="37" font-family='"Liberation Serif", serif'>28</text>
<text transform="translate(630.5,1188) scale(0.94,1)" text-anchor="middle" font-size="37" font-family='"Liberation Serif", serif'>33</text>
<text x="390.5" y="1229" text-anchor="middle" font-size="37" font-weight="normal" font-family='"Liberation Serif", serif' textLength="102" lengthAdjust="spacingAndGlyphs" >Salinity</text>
<text transform="translate(31.5,885.5) rotate(-90)" text-anchor="middle" font-size="36" font-family='"Liberation Serif", serif' textLength="154" lengthAdjust="spacingAndGlyphs">Ω<tspan font-size="24" dy="8">arag-Nontem</tspan></text>
<circle cx="257.2" cy="976.7" r="6" fill="#8b8b8b" stroke="#2e2e2e" stroke-width="1.5"/>
<circle cx="231.8" cy="990.8" r="6" fill="#8b8b8b" stroke="#2e2e2e" stroke-width="1.5"/>
<circle cx="243" cy="993.2" r="6" fill="#8b8b8b" stroke="#2e2e2e" stroke-width="1.5"/>
<circle cx="241.3" cy="999.6" r="6" fill="#8b8b8b" stroke="#2e2e2e" stroke-width="1.5"/>
<circle cx="215.3" cy="998.5" r="6" fill="#8b8b8b" stroke="#2e2e2e" stroke-width="1.5"/>
<circle cx="200" cy="1010.8" r="6" fill="#8b8b8b" stroke="#2e2e2e" stroke-width="1.5"/>
<circle cx="201.2" cy="1015.6" r="6" fill="#8b8b8b" stroke="#2e2e2e" stroke-width="1.5"/>
<circle cx="229.5" cy="1009.1" r="6" fill="#8b8b8b" stroke="#2e2e2e" stroke-width="1.5"/>
<circle cx="230.1" cy="1020.9" r="6" fill="#8b8b8b" stroke="#2e2e2e" stroke-width="1.5"/>
<circle cx="294.3" cy="995.5" r="6" fill="#8b8b8b" stroke="#2e2e2e" stroke-width="1.5"/>
<circle cx="302.5" cy="993.8" r="6" fill="#8b8b8b" stroke="#2e2e2e" stroke-width="1.5"/>
<circle cx="537" cy="787.7" r="6" fill="#8b8b8b" stroke="#2e2e2e" stroke-width="1.5"/>
<circle cx="517.6" cy="799.2" r="6" fill="#8b8b8b" stroke="#2e2e2e" stroke-width="1.5"/>
<circle cx="546.7" cy="799.2" r="6" fill="#8b8b8b" stroke="#2e2e2e" stroke-width="1.5"/>
<circle cx="557.3" cy="802.7" r="6" fill="#8b8b8b" stroke="#2e2e2e" stroke-width="1.5"/>
<circle cx="565.3" cy="800" r="6" fill="#8b8b8b" stroke="#2e2e2e" stroke-width="1.5"/>
<circle cx="562.6" cy="814.2" r="6" fill="#8b8b8b" stroke="#2e2e2e" stroke-width="1.5"/>
<circle cx="572.4" cy="816" r="6" fill="#8b8b8b" stroke="#2e2e2e" stroke-width="1.5"/>
<circle cx="552" cy="823.9" r="6" fill="#8b8b8b" stroke="#2e2e2e" stroke-width="1.5"/>
<circle cx="558.2" cy="822.1" r="6" fill="#8b8b8b" stroke="#2e2e2e" stroke-width="1.5"/>
<circle cx="491.1" cy="822.1" r="6" fill="#8b8b8b" stroke="#2e2e2e" stroke-width="1.5"/>
<circle cx="506.1" cy="821.3" r="6" fill="#8b8b8b" stroke="#2e2e2e" stroke-width="1.5"/>
<circle cx="502.6" cy="838.9" r="6" fill="#8b8b8b" stroke="#2e2e2e" stroke-width="1.5"/>
<circle cx="483.1" cy="848.7" r="6" fill="#8b8b8b" stroke="#2e2e2e" stroke-width="1.5"/>
<circle cx="539.7" cy="842.5" r="6" fill="#8b8b8b" stroke="#2e2e2e" stroke-width="1.5"/>
<circle cx="431" cy="840.7" r="6" fill="#8b8b8b" stroke="#2e2e2e" stroke-width="1.5"/>
<circle cx="447.8" cy="838.9" r="6" fill="#8b8b8b" stroke="#2e2e2e" stroke-width="1.5"/>
<circle cx="388.6" cy="874.3" r="6" fill="#8b8b8b" stroke="#2e2e2e" stroke-width="1.5"/>
<circle cx="501.7" cy="856.6" r="6" fill="#8b8b8b" stroke="#2e2e2e" stroke-width="1.5"/>
<circle cx="482.2" cy="866.3" r="6" fill="#8b8b8b" stroke="#2e2e2e" stroke-width="1.5"/>
<circle cx="500.8" cy="867.2" r="6" fill="#8b8b8b" stroke="#2e2e2e" stroke-width="1.5"/>
<circle cx="507" cy="867.2" r="6" fill="#8b8b8b" stroke="#2e2e2e" stroke-width="1.5"/>
<circle cx="472.5" cy="908.7" r="6" fill="#8b8b8b" stroke="#2e2e2e" stroke-width="1.5"/>
<circle cx="451.3" cy="919.3" r="6" fill="#8b8b8b" stroke="#2e2e2e" stroke-width="1.5"/>
<path d="M575.0 828.9L581.5 835.4L575.0 841.9L568.5 835.4Z" fill="#d65a22" stroke="#8a3a14" stroke-width="1"/>
<path d="M578.6 846.6L585.1 853.1L578.6 859.6L572.1 853.1Z" fill="#d65a22" stroke="#8a3a14" stroke-width="1"/>
<path d="M566.2 851.0L572.7 857.5L566.2 864.0L559.7 857.5Z" fill="#d65a22" stroke="#8a3a14" stroke-width="1"/>
<path d="M576.8 859.8L583.3 866.3L576.8 872.8L570.3 866.3Z" fill="#d65a22" stroke="#8a3a14" stroke-width="1"/>
<path d="M564.4 864.2L570.9 870.7L564.4 877.2L557.9 870.7Z" fill="#d65a22" stroke="#8a3a14" stroke-width="1"/>
<path d="M575.0 867.8L581.5 874.3L575.0 880.8L568.5 874.3Z" fill="#d65a22" stroke="#8a3a14" stroke-width="1"/>
<path d="M569.7 885.5L576.2 892.0L569.7 898.5L563.2 892.0Z" fill="#d65a22" stroke="#8a3a14" stroke-width="1"/>
<path d="M573.3 887.2L579.8 893.7L573.3 900.2L566.8 893.7Z" fill="#d65a22" stroke="#8a3a14" stroke-width="1"/>
<path d="M518.5 874.0L525.0 880.5L518.5 887.0L512.0 880.5Z" fill="#d65a22" stroke="#8a3a14" stroke-width="1"/>
<path d="M513.2 881.9L519.7 888.4L513.2 894.9L506.7 888.4Z" fill="#d65a22" stroke="#8a3a14" stroke-width="1"/>
<path d="M525.5 888.1L532.0 894.6L525.5 901.1L519.0 894.6Z" fill="#d65a22" stroke="#8a3a14" stroke-width="1"/>
<path d="M543.2 873.1L549.7 879.6L543.2 886.1L536.7 879.6Z" fill="#d65a22" stroke="#8a3a14" stroke-width="1"/>
<path d="M544.1 879.3L550.6 885.8L544.1 892.3L537.6 885.8Z" fill="#d65a22" stroke="#8a3a14" stroke-width="1"/>
<path d="M552.0 894.3L558.5 900.8L552.0 907.3L545.5 900.8Z" fill="#d65a22" stroke="#8a3a14" stroke-width="1"/>
<path d="M547.6 900.5L554.1 907.0L547.6 913.5L541.1 907.0Z" fill="#d65a22" stroke="#8a3a14" stroke-width="1"/>
<path d="M560.9 905.8L567.4 912.3L560.9 918.8L554.4 912.3Z" fill="#d65a22" stroke="#8a3a14" stroke-width="1"/>
<path d="M529.1 914.6L535.6 921.1L529.1 927.6L522.6 921.1Z" fill="#d65a22" stroke="#8a3a14" stroke-width="1"/>
<path d="M539.7 926.1L546.2 932.6L539.7 939.1L533.2 932.6Z" fill="#d65a22" stroke="#8a3a14" stroke-width="1"/>
<path d="M459.3 915.5L465.8 922.0L459.3 928.5L452.8 922.0Z" fill="#d65a22" stroke="#8a3a14" stroke-width="1"/>
<path d="M468.1 925.2L474.6 931.7L468.1 938.2L461.6 931.7Z" fill="#d65a22" stroke="#8a3a14" stroke-width="1"/>
<path d="M466.3 931.4L472.8 937.9L466.3 944.4L459.8 937.9Z" fill="#d65a22" stroke="#8a3a14" stroke-width="1"/>
<path d="M447.8 933.2L454.3 939.7L447.8 946.2L441.3 939.7Z" fill="#d65a22" stroke="#8a3a14" stroke-width="1"/>
<path d="M446.0 940.2L452.5 946.7L446.0 953.2L439.5 946.7Z" fill="#d65a22" stroke="#8a3a14" stroke-width="1"/>
<path d="M491.1 934.1L497.6 940.6L491.1 947.1L484.6 940.6Z" fill="#d65a22" stroke="#8a3a14" stroke-width="1"/>
<path d="M485.8 942.0L492.3 948.5L485.8 955.0L479.3 948.5Z" fill="#d65a22" stroke="#8a3a14" stroke-width="1"/>
<path d="M422.1 942.0L428.6 948.5L422.1 955.0L415.6 948.5Z" fill="#d65a22" stroke="#8a3a14" stroke-width="1"/>
<path d="M416.0 955.3L422.5 961.8L416.0 968.3L409.5 961.8Z" fill="#d65a22" stroke="#8a3a14" stroke-width="1"/>
<path d="M428.3 953.5L434.8 960.0L428.3 966.5L421.8 960.0Z" fill="#d65a22" stroke="#8a3a14" stroke-width="1"/>
<path d="M456.6 948.2L463.1 954.7L456.6 961.2L450.1 954.7Z" fill="#d65a22" stroke="#8a3a14" stroke-width="1"/>
<path d="M466.3 949.1L472.8 955.6L466.3 962.1L459.8 955.6Z" fill="#d65a22" stroke="#8a3a14" stroke-width="1"/>
<path d="M451.3 958.8L457.8 965.3L451.3 971.8L444.8 965.3Z" fill="#d65a22" stroke="#8a3a14" stroke-width="1"/>
<path d="M454.8 962.3L461.3 968.8L454.8 975.3L448.3 968.8Z" fill="#d65a22" stroke="#8a3a14" stroke-width="1"/>
<line x1="194" y1="1027" x2="573" y2="788" stroke="#111" stroke-width="3.4" stroke-dasharray="6.3 8.2" stroke-linecap="round"/>
<line x1="421" y1="970.6" x2="600" y2="851.3" stroke="#111" stroke-width="3.4" stroke-dasharray="6.3 8.2" stroke-linecap="round"/>
<circle cx="437" cy="1097" r="5" fill="#8b8b8b" stroke="#2e2e2e" stroke-width="1.2"/>
<text x="446" y="1103" text-anchor="start" font-size="20" font-weight="normal" font-family='"Liberation Serif", serif' >August</text>
<path d="M525.0 1091.5L530.5 1097.0L525.0 1102.5L519.5 1097.0Z" fill="#d65a22" stroke="#8a3a14" stroke-width="1"/>
<text x="534" y="1103" text-anchor="start" font-size="20" font-weight="normal" font-family='"Liberation Serif", serif' >October</text>
<rect x="833" y="670" width="496" height="465.5" fill="none" stroke="#000" stroke-width="3"/>
<text transform="translate(795,1135.5) scale(0.94,1)" dy="0.34em" text-anchor="end" font-size="37" font-family='"Liberation Serif", serif'>0.0</text>
<line x1="833" y1="1042.4" x2="843" y2="1042.4" stroke="#000" stroke-width="3"/>
<text transform="translate(795,1042.4) scale(0.94,1)" dy="0.34em" text-anchor="end" font-size="37" font-family='"Liberation Serif", serif'>1.0</text>
<line x1="833" y1="949.3" x2="843" y2="949.3" stroke="#000" stroke-width="3"/>
<text transform="translate(795,949.3) scale(0.94,1)" dy="0.34em" text-anchor="end" font-size="37" font-family='"Liberation Serif", serif'>2.0</text>
<line x1="833" y1="856.2" x2="843" y2="856.2" stroke="#000" stroke-width="3"/>
<text transform="translate(795,856.2) scale(0.94,1)" dy="0.34em" text-anchor="end" font-size="37" font-family='"Liberation Serif", serif'>3.0</text>
<line x1="833" y1="763.1" x2="843" y2="763.1" stroke="#000" stroke-width="3"/>
<text transform="translate(795,763.1) scale(0.94,1)" dy="0.34em" text-anchor="end" font-size="37" font-family='"Liberation Serif", serif'>4.0</text>
<text transform="translate(795,670.0) scale(0.94,1)" dy="0.34em" text-anchor="end" font-size="37" font-family='"Liberation Serif", serif'>5.0</text>
<text transform="translate(829.5,1185) scale(0.94,1)" text-anchor="middle" font-size="35" font-family='"Liberation Serif", serif'>0.0</text>
<line x1="932.2" y1="1135.5" x2="932.2" y2="1126.5" stroke="#000" stroke-width="3"/>
<text transform="translate(928.7,1185) scale(0.94,1)" text-anchor="middle" font-size="35" font-family='"Liberation Serif", serif'>1.0</text>
<line x1="1031.4" y1="1135.5" x2="1031.4" y2="1126.5" stroke="#000" stroke-width="3"/>
<text transform="translate(1027.9,1185) scale(0.94,1)" text-anchor="middle" font-size="35" font-family='"Liberation Serif", serif'>2.0</text>
<line x1="1130.6" y1="1135.5" x2="1130.6" y2="1126.5" stroke="#000" stroke-width="3"/>
<text transform="translate(1127.1,1185) scale(0.94,1)" text-anchor="middle" font-size="35" font-family='"Liberation Serif", serif'>3.0</text>
<line x1="1229.8" y1="1135.5" x2="1229.8" y2="1126.5" stroke="#000" stroke-width="3"/>
<text transform="translate(1226.3,1185) scale(0.94,1)" text-anchor="middle" font-size="35" font-family='"Liberation Serif", serif'>4.0</text>
<text transform="translate(1325.5,1185) scale(0.94,1)" text-anchor="middle" font-size="35" font-family='"Liberation Serif", serif'>5.0</text>
<text x="1038.5" y="1221.5" text-anchor="start" font-size="35" font-weight="normal" font-family='"Liberation Serif", serif' textLength="104" lengthAdjust="spacingAndGlyphs" >Ω<tspan font-size="22" dy="6.5">arag,mix</tspan></text>
<text transform="translate(733.5,900) rotate(-90)" text-anchor="middle" font-size="36" font-family='"Liberation Serif", serif'>Ω<tspan font-size="24" dy="8">arag</tspan></text>
<circle cx="988.1" cy="989.8" r="6" fill="#8b8b8b" stroke="#2e2e2e" stroke-width="1.5"/>
<circle cx="1013.2" cy="1003.1" r="6" fill="#8b8b8b" stroke="#2e2e2e" stroke-width="1.5"/>
<circle cx="1020.5" cy="1001.6" r="6" fill="#8b8b8b" stroke="#2e2e2e" stroke-width="1.5"/>
<circle cx="979.3" cy="1007.5" r="6" fill="#8b8b8b" stroke="#2e2e2e" stroke-width="1.5"/>
<circle cx="969" cy="1009" r="6" fill="#8b8b8b" stroke="#2e2e2e" stroke-width="1.5"/>
<circle cx="968.2" cy="1022.2" r="6" fill="#8b8b8b" stroke="#2e2e2e" stroke-width="1.5"/>
<circle cx="969.7" cy="1029.6" r="6" fill="#8b8b8b" stroke="#2e2e2e" stroke-width="1.5"/>
<circle cx="951.3" cy="1025.2" r="6" fill="#8b8b8b" stroke="#2e2e2e" stroke-width="1.5"/>
<circle cx="954.3" cy="1014.9" r="6" fill="#8b8b8b" stroke="#2e2e2e" stroke-width="1.5"/>
<circle cx="1180.6" cy="782.5" r="6" fill="#8b8b8b" stroke="#2e2e2e" stroke-width="1.5"/>
<circle cx="1197.9" cy="791.8" r="6" fill="#8b8b8b" stroke="#2e2e2e" stroke-width="1.5"/>
<circle cx="1200.5" cy="793.1" r="6" fill="#8b8b8b" stroke="#2e2e2e" stroke-width="1.5"/>
<circle cx="1196.5" cy="807.1" r="6" fill="#8b8b8b" stroke="#2e2e2e" stroke-width="1.5"/>
<circle cx="1201.8" cy="806.4" r="6" fill="#8b8b8b" stroke="#2e2e2e" stroke-width="1.5"/>
<circle cx="1198.5" cy="815" r="6" fill="#8b8b8b" stroke="#2e2e2e" stroke-width="1.5"/>
<circle cx="1187.3" cy="821" r="6" fill="#8b8b8b" stroke="#2e2e2e" stroke-width="1.5"/>
<circle cx="1205.2" cy="823.6" r="6" fill="#8b8b8b" stroke="#2e2e2e" stroke-width="1.5"/>
<circle cx="1148.8" cy="815.7" r="6" fill="#8b8b8b" stroke="#2e2e2e" stroke-width="1.5"/>
<circle cx="1167.4" cy="818.3" r="6" fill="#8b8b8b" stroke="#2e2e2e" stroke-width="1.5"/>
<circle cx="1159.4" cy="828.3" r="6" fill="#8b8b8b" stroke="#2e2e2e" stroke-width="1.5"/>
<circle cx="1083.2" cy="825.6" r="6" fill="#8b8b8b" stroke="#2e2e2e" stroke-width="1.5"/>
<circle cx="1107.7" cy="840.9" r="6" fill="#8b8b8b" stroke="#2e2e2e" stroke-width="1.5"/>
<circle cx="1119.7" cy="847.5" r="6" fill="#8b8b8b" stroke="#2e2e2e" stroke-width="1.5"/>
<circle cx="1157.4" cy="851.5" r="6" fill="#8b8b8b" stroke="#2e2e2e" stroke-width="1.5"/>
<circle cx="1142.8" cy="860.1" r="6" fill="#8b8b8b" stroke="#2e2e2e" stroke-width="1.5"/>
<circle cx="1142.8" cy="866.7" r="6" fill="#8b8b8b" stroke="#2e2e2e" stroke-width="1.5"/>
<circle cx="1156.8" cy="870" r="6" fill="#8b8b8b" stroke="#2e2e2e" stroke-width="1.5"/>
<circle cx="1154.8" cy="882.6" r="6" fill="#8b8b8b" stroke="#2e2e2e" stroke-width="1.5"/>
<circle cx="1159.4" cy="886.6" r="6" fill="#8b8b8b" stroke="#2e2e2e" stroke-width="1.5"/>
<circle cx="1191.2" cy="841.5" r="6" fill="#8b8b8b" stroke="#2e2e2e" stroke-width="1.5"/>
<circle cx="1182.6" cy="849.5" r="6" fill="#8b8b8b" stroke="#2e2e2e" stroke-width="1.5"/>
<circle cx="1079.2" cy="880" r="6" fill="#8b8b8b" stroke="#2e2e2e" stroke-width="1.5"/>
<circle cx="1114.3" cy="931.7" r="6" fill="#8b8b8b" stroke="#2e2e2e" stroke-width="1.5"/>
<circle cx="1136.9" cy="932.3" r="6" fill="#8b8b8b" stroke="#2e2e2e" stroke-width="1.5"/>
<circle cx="1142.8" cy="933" r="6" fill="#8b8b8b" stroke="#2e2e2e" stroke-width="1.5"/>
<circle cx="1122.3" cy="960.2" r="6" fill="#8b8b8b" stroke="#2e2e2e" stroke-width="1.5"/>
<circle cx="1103.1" cy="969.4" r="6" fill="#8b8b8b" stroke="#2e2e2e" stroke-width="1.5"/>
<path d="M1038.2 908.6L1044.3 914.7L1038.2 920.8L1032.1 914.7Z" fill="#d65a22" stroke="#8a3a14" stroke-width="1"/>
<path d="M1031.6 921.1L1037.7 927.2L1031.6 933.3L1025.5 927.2Z" fill="#d65a22" stroke="#8a3a14" stroke-width="1"/>
<path d="M1041.1 924.8L1047.2 930.9L1041.1 937.0L1035.0 930.9Z" fill="#d65a22" stroke="#8a3a14" stroke-width="1"/>
<path d="M1031.6 931.5L1037.7 937.6L1031.6 943.7L1025.5 937.6Z" fill="#d65a22" stroke="#8a3a14" stroke-width="1"/>
<path d="M1038.2 938.1L1044.3 944.2L1038.2 950.3L1032.1 944.2Z" fill="#d65a22" stroke="#8a3a14" stroke-width="1"/>
<path d="M1029.4 942.5L1035.5 948.6L1029.4 954.7L1023.3 948.6Z" fill="#d65a22" stroke="#8a3a14" stroke-width="1"/>
<path d="M1035.3 950.6L1041.4 956.7L1035.3 962.8L1029.2 956.7Z" fill="#d65a22" stroke="#8a3a14" stroke-width="1"/>
<path d="M1036.7 961.6L1042.8 967.7L1036.7 973.8L1030.6 967.7Z" fill="#d65a22" stroke="#8a3a14" stroke-width="1"/>
<path d="M1026.4 964.6L1032.5 970.7L1026.4 976.8L1020.3 970.7Z" fill="#d65a22" stroke="#8a3a14" stroke-width="1"/>
<path d="M1013.9 952.8L1020.0 958.9L1013.9 965.0L1007.8 958.9Z" fill="#d65a22" stroke="#8a3a14" stroke-width="1"/>
<path d="M1019.1 958.7L1025.2 964.8L1019.1 970.9L1013.0 964.8Z" fill="#d65a22" stroke="#8a3a14" stroke-width="1"/>
<path d="M1014.6 966.1L1020.7 972.2L1014.6 978.3L1008.5 972.2Z" fill="#d65a22" stroke="#8a3a14" stroke-width="1"/>
<path d="M1011.7 940.3L1017.8 946.4L1011.7 952.5L1005.6 946.4Z" fill="#d65a22" stroke="#8a3a14" stroke-width="1"/>
<path d="M991.1 945.4L997.2 951.5L991.1 957.6L985.0 951.5Z" fill="#d65a22" stroke="#8a3a14" stroke-width="1"/>
<path d="M986.7 954.3L992.8 960.4L986.7 966.5L980.6 960.4Z" fill="#d65a22" stroke="#8a3a14" stroke-width="1"/>
<path d="M997.7 960.2L1003.8 966.3L997.7 972.4L991.6 966.3Z" fill="#d65a22" stroke="#8a3a14" stroke-width="1"/>
<path d="M969.7 936.6L975.8 942.7L969.7 948.8L963.6 942.7Z" fill="#d65a22" stroke="#8a3a14" stroke-width="1"/>
<path d="M1001.4 980.8L1007.5 986.9L1001.4 993.0L995.3 986.9Z" fill="#d65a22" stroke="#8a3a14" stroke-width="1"/>
<path d="M1010.2 983.7L1016.3 989.8L1010.2 995.9L1004.1 989.8Z" fill="#d65a22" stroke="#8a3a14" stroke-width="1"/>
<path d="M943.2 985.2L949.3 991.3L943.2 997.4L937.1 991.3Z" fill="#d65a22" stroke="#8a3a14" stroke-width="1"/>
<path d="M969.0 990.4L975.1 996.5L969.0 1002.6L962.9 996.5Z" fill="#d65a22" stroke="#8a3a14" stroke-width="1"/>
<path d="M950.6 997.0L956.7 1003.1L950.6 1009.2L944.5 1003.1Z" fill="#d65a22" stroke="#8a3a14" stroke-width="1"/>
<path d="M933.6 1004.4L939.7 1010.5L933.6 1016.6L927.5 1010.5Z" fill="#d65a22" stroke="#8a3a14" stroke-width="1"/>
<path d="M961.6 1002.9L967.7 1009.0L961.6 1015.1L955.5 1009.0Z" fill="#d65a22" stroke="#8a3a14" stroke-width="1"/>
<path d="M942.5 1011.7L948.6 1017.8L942.5 1023.9L936.4 1017.8Z" fill="#d65a22" stroke="#8a3a14" stroke-width="1"/>
<path d="M936.6 1017.6L942.7 1023.7L936.6 1029.8L930.5 1023.7Z" fill="#d65a22" stroke="#8a3a14" stroke-width="1"/>
<path d="M948.4 1013.2L954.5 1019.3L948.4 1025.4L942.3 1019.3Z" fill="#d65a22" stroke="#8a3a14" stroke-width="1"/>
<path d="M936.6 1026.4L942.7 1032.5L936.6 1038.6L930.5 1032.5Z" fill="#d65a22" stroke="#8a3a14" stroke-width="1"/>
<path d="M939.5 1030.9L945.6 1037.0L939.5 1043.1L933.4 1037.0Z" fill="#d65a22" stroke="#8a3a14" stroke-width="1"/>
<path d="M908.6 1020.6L914.7 1026.7L908.6 1032.8L902.5 1026.7Z" fill="#d65a22" stroke="#8a3a14" stroke-width="1"/>
<path d="M914.5 1020.6L920.6 1026.7L914.5 1032.8L908.4 1026.7Z" fill="#d65a22" stroke="#8a3a14" stroke-width="1"/>
<path d="M918.2 1028.7L924.3 1034.8L918.2 1040.9L912.1 1034.8Z" fill="#d65a22" stroke="#8a3a14" stroke-width="1"/>
<line x1="836" y1="1129.5" x2="1341" y2="663" stroke="#111" stroke-width="3.4" stroke-dasharray="6.3 8.2" stroke-linecap="round"/>
<circle cx="1128" cy="1105" r="5" fill="#8b8b8b" stroke="#2e2e2e" stroke-width="1.2"/>
<text x="1139" y="1111" text-anchor="start" font-size="20" font-weight="normal" font-family='"Liberation Serif", serif' >August</text>
<path d="M1217.0 1099.5L1222.5 1105.0L1217.0 1110.5L1211.5 1105.0Z" fill="#d65a22" stroke="#8a3a14" stroke-width="1"/>
<text x="1227" y="1111" text-anchor="start" font-size="20" font-weight="normal" font-family='"Liberation Serif", serif' >October</text>
<rect x="143.25" y="1245.5" width="498.0" height="465.5" fill="none" stroke="#000" stroke-width="3"/>
<text transform="translate(107,1711.0) scale(0.94,1)" dy="0.34em" text-anchor="end" font-size="36" font-family='"Liberation Serif", serif'>0.0</text>
<line x1="143.25" y1="1594.625" x2="153.25" y2="1594.625" stroke="#000" stroke-width="3"/>
<text transform="translate(107,1594.625) scale(0.94,1)" dy="0.34em" text-anchor="end" font-size="36" font-family='"Liberation Serif", serif'>1.0</text>
<line x1="143.25" y1="1478.25" x2="153.25" y2="1478.25" stroke="#000" stroke-width="3"/>
<text transform="translate(107,1478.25) scale(0.94,1)" dy="0.34em" text-anchor="end" font-size="36" font-family='"Liberation Serif", serif'>2.0</text>
<line x1="143.25" y1="1361.875" x2="153.25" y2="1361.875" stroke="#000" stroke-width="3"/>
<text transform="translate(107,1361.875) scale(0.94,1)" dy="0.34em" text-anchor="end" font-size="36" font-family='"Liberation Serif", serif'>3.0</text>
<text transform="translate(107,1245.5) scale(0.94,1)" dy="0.34em" text-anchor="end" font-size="36" font-family='"Liberation Serif", serif'>4.0</text>
<text transform="translate(143.75,1764) scale(0.94,1)" text-anchor="middle" font-size="36" font-family='"Liberation Serif", serif'>50</text>
<line x1="242.85" y1="1711" x2="242.85" y2="1702" stroke="#000" stroke-width="3"/>
<text transform="translate(243.35,1764) scale(0.94,1)" text-anchor="middle" font-size="36" font-family='"Liberation Serif", serif'>60</text>
<line x1="342.45" y1="1711" x2="342.45" y2="1702" stroke="#000" stroke-width="3"/>
<text transform="translate(342.95,1764) scale(0.94,1)" text-anchor="middle" font-size="36" font-family='"Liberation Serif", serif'>70</text>
<line x1="442.05" y1="1711" x2="442.05" y2="1702" stroke="#000" stroke-width="3"/>
<text transform="translate(442.55,1764) scale(0.94,1)" text-anchor="middle" font-size="36" font-family='"Liberation Serif", serif'>80</text>
<line x1="541.65" y1="1711" x2="541.65" y2="1702" stroke="#000" stroke-width="3"/>
<text transform="translate(542.15,1764) scale(0.94,1)" text-anchor="middle" font-size="36" font-family='"Liberation Serif", serif'>90</text>
<text transform="translate(641.75,1764) scale(0.94,1)" text-anchor="middle" font-size="36" font-family='"Liberation Serif", serif'>100</text>
<text x="390" y="1815" text-anchor="middle" font-size="37" font-weight="normal" font-family='"Liberation Serif", serif' textLength="76" lengthAdjust="spacingAndGlyphs" >DO%</text>
<text transform="translate(37,1478.8) rotate(-90)" text-anchor="middle" font-size="36" font-family='"Liberation Serif", serif' textLength="143" lengthAdjust="spacingAndGlyphs">Ω<tspan font-size="24" dy="8">arag-Nontem</tspan></text>
<circle cx="384.7" cy="1483.4" r="6" fill="#8b8b8b" stroke="#2e2e2e" stroke-width="1.5"/>
<circle cx="432.2" cy="1472.2" r="6" fill="#8b8b8b" stroke="#2e2e2e" stroke-width="1.5"/>
<circle cx="439.5" cy="1482" r="6" fill="#8b8b8b" stroke="#2e2e2e" stroke-width="1.5"/>
<circle cx="448.5" cy="1466.6" r="6" fill="#8b8b8b" stroke="#2e2e2e" stroke-width="1.5"/>
<circle cx="459.1" cy="1461.5" r="6" fill="#8b8b8b" stroke="#2e2e2e" stroke-width="1.5"/>
<circle cx="475" cy="1465.2" r="6" fill="#8b8b8b" stroke="#2e2e2e" stroke-width="1.5"/>
<circle cx="489.9" cy="1482" r="6" fill="#8b8b8b" stroke="#2e2e2e" stroke-width="1.5"/>
<circle cx="496.9" cy="1476.4" r="6" fill="#8b8b8b" stroke="#2e2e2e" stroke-width="1.5"/>
<circle cx="510.9" cy="1482" r="6" fill="#8b8b8b" stroke="#2e2e2e" stroke-width="1.5"/>
<circle cx="517" cy="1465.2" r="6" fill="#8b8b8b" stroke="#2e2e2e" stroke-width="1.5"/>
<circle cx="511.4" cy="1470.8" r="6" fill="#8b8b8b" stroke="#2e2e2e" stroke-width="1.5"/>
<circle cx="521.8" cy="1441.8" r="6" fill="#8b8b8b" stroke="#2e2e2e" stroke-width="1.5"/>
<circle cx="530.5" cy="1439.7" r="6" fill="#8b8b8b" stroke="#2e2e2e" stroke-width="1.5"/>
<circle cx="533.6" cy="1435.1" r="6" fill="#8b8b8b" stroke="#2e2e2e" stroke-width="1.5"/>
<circle cx="548.6" cy="1443.8" r="6" fill="#8b8b8b" stroke="#2e2e2e" stroke-width="1.5"/>
<circle cx="533.6" cy="1457.7" r="6" fill="#8b8b8b" stroke="#2e2e2e" stroke-width="1.5"/>
<circle cx="540.8" cy="1454.6" r="6" fill="#8b8b8b" stroke="#2e2e2e" stroke-width="1.5"/>
<circle cx="517.1" cy="1464.4" r="6" fill="#8b8b8b" stroke="#2e2e2e" stroke-width="1.5"/>
<circle cx="512" cy="1470.6" r="6" fill="#8b8b8b" stroke="#2e2e2e" stroke-width="1.5"/>
<circle cx="497.5" cy="1476.3" r="6" fill="#8b8b8b" stroke="#2e2e2e" stroke-width="1.5"/>
<circle cx="490.3" cy="1482.5" r="6" fill="#8b8b8b" stroke="#2e2e2e" stroke-width="1.5"/>
<circle cx="510.9" cy="1482.5" r="6" fill="#8b8b8b" stroke="#2e2e2e" stroke-width="1.5"/>
<circle cx="569.2" cy="1456.7" r="6" fill="#8b8b8b" stroke="#2e2e2e" stroke-width="1.5"/>
<circle cx="576.4" cy="1439.7" r="6" fill="#8b8b8b" stroke="#2e2e2e" stroke-width="1.5"/>
<circle cx="589.3" cy="1432" r="6" fill="#8b8b8b" stroke="#2e2e2e" stroke-width="1.5"/>
<circle cx="589.8" cy="1449.5" r="6" fill="#8b8b8b" stroke="#2e2e2e" stroke-width="1.5"/>
<path d="M261.8 1560.4L267.3 1565.9L261.8 1571.4L256.3 1565.9Z" fill="#f08530" stroke="#2a1a0a" stroke-width="1"/>
<path d="M292.6 1556.2L298.1 1561.7L292.6 1567.2L287.1 1561.7Z" fill="#f08530" stroke="#2a1a0a" stroke-width="1"/>
<path d="M296.0 1561.8L301.5 1567.3L296.0 1572.8L290.5 1567.3Z" fill="#f08530" stroke="#2a1a0a" stroke-width="1"/>
<path d="M329.0 1540.8L334.5 1546.3L329.0 1551.8L323.5 1546.3Z" fill="#f08530" stroke="#2a1a0a" stroke-width="1"/>
<path d="M392.5 1507.8L398.0 1513.3L392.5 1518.8L387.0 1513.3Z" fill="#f08530" stroke="#2a1a0a" stroke-width="1"/>
<path d="M443.4 1522.6L448.9 1528.1L443.4 1533.6L437.9 1528.1Z" fill="#f08530" stroke="#2a1a0a" stroke-width="1"/>
<path d="M449.9 1547.8L455.4 1553.3L449.9 1558.8L444.4 1553.3Z" fill="#f08530" stroke="#2a1a0a" stroke-width="1"/>
<path d="M459.7 1549.2L465.2 1554.7L459.7 1560.2L454.2 1554.7Z" fill="#f08530" stroke="#2a1a0a" stroke-width="1"/>
<path d="M463.0 1500.3L468.5 1505.8L463.0 1511.3L457.5 1505.8Z" fill="#f08530" stroke="#2a1a0a" stroke-width="1"/>
<path d="M468.9 1479.3L474.4 1484.8L468.9 1490.3L463.4 1484.8Z" fill="#f08530" stroke="#2a1a0a" stroke-width="1"/>
<path d="M482.0 1509.5L487.5 1515.0L482.0 1520.5L476.5 1515.0Z" fill="#f08530" stroke="#2a1a0a" stroke-width="1"/>
<path d="M483.4 1516.2L488.9 1521.7L483.4 1527.2L477.9 1521.7Z" fill="#f08530" stroke="#2a1a0a" stroke-width="1"/>
<path d="M494.6 1512.0L500.1 1517.5L494.6 1523.0L489.1 1517.5Z" fill="#f08530" stroke="#2a1a0a" stroke-width="1"/>
<path d="M481.2 1529.6L486.7 1535.1L481.2 1540.6L475.7 1535.1Z" fill="#f08530" stroke="#2a1a0a" stroke-width="1"/>
<path d="M493.2 1526.3L498.7 1531.8L493.2 1537.3L487.7 1531.8Z" fill="#f08530" stroke="#2a1a0a" stroke-width="1"/>
<path d="M512.3 1519.0L517.8 1524.5L512.3 1530.0L506.8 1524.5Z" fill="#f08530" stroke="#2a1a0a" stroke-width="1"/>
<path d="M492.4 1465.3L497.9 1470.8L492.4 1476.3L486.9 1470.8Z" fill="#f08530" stroke="#2a1a0a" stroke-width="1"/>
<path d="M539.4 1456.9L544.9 1462.4L539.4 1467.9L533.9 1462.4Z" fill="#f08530" stroke="#2a1a0a" stroke-width="1"/>
<line x1="254" y1="1589" x2="613" y2="1430.4" stroke="#111" stroke-width="3.4" stroke-dasharray="6.3 8.2" stroke-linecap="round"/>
<path d="M492.4 1465.6L497.9 1471.1L492.4 1476.6L486.9 1471.1Z" fill="#f08530" stroke="#2a1a0a" stroke-width="1"/>
<path d="M539.8 1456.4L545.3 1461.9L539.8 1467.4L534.3 1461.9Z" fill="#f08530" stroke="#2a1a0a" stroke-width="1"/>
<circle cx="459" cy="1676" r="5" fill="#8b8b8b" stroke="#2e2e2e" stroke-width="1.2"/>
<text x="469" y="1682" text-anchor="start" font-size="20" font-weight="normal" font-family='"Liberation Serif", serif' >August</text>
<path d="M540.0 1670.5L545.5 1676.0L540.0 1681.5L534.5 1676.0Z" fill="#f08530" stroke="#2a1a0a" stroke-width="1"/>
<text x="549.5" y="1682" text-anchor="start" font-size="20" font-weight="normal" font-family='"Liberation Serif", serif' >October</text>
<rect x="837" y="1243.75" width="495.5" height="462.95000000000005" fill="none" stroke="#000" stroke-width="3"/>
<text transform="translate(800,1706.7) scale(0.94,1)" dy="0.34em" text-anchor="end" font-size="37" font-family='"Liberation Serif", serif'>0</text>
<line x1="837" y1="1614.1100000000001" x2="847" y2="1614.1100000000001" stroke="#000" stroke-width="3"/>
<text transform="translate(800,1614.1100000000001) scale(0.94,1)" dy="0.34em" text-anchor="end" font-size="37" font-family='"Liberation Serif", serif'>30</text>
<line x1="837" y1="1521.52" x2="847" y2="1521.52" stroke="#000" stroke-width="3"/>
<text transform="translate(800,1521.52) scale(0.94,1)" dy="0.34em" text-anchor="end" font-size="37" font-family='"Liberation Serif", serif'>60</text>
<line x1="837" y1="1428.93" x2="847" y2="1428.93" stroke="#000" stroke-width="3"/>
<text transform="translate(800,1428.93) scale(0.94,1)" dy="0.34em" text-anchor="end" font-size="37" font-family='"Liberation Serif", serif'>90</text>
<line x1="837" y1="1336.34" x2="847" y2="1336.34" stroke="#000" stroke-width="3"/>
<text transform="translate(800,1336.34) scale(0.94,1)" dy="0.34em" text-anchor="end" font-size="37" font-family='"Liberation Serif", serif'>120</text>
<text transform="translate(800,1243.75) scale(0.94,1)" dy="0.34em" text-anchor="end" font-size="37" font-family='"Liberation Serif", serif'>150</text>
<text transform="translate(837.5,1758.5) scale(0.94,1)" text-anchor="middle" font-size="37" font-family='"Liberation Serif", serif'>0</text>
<line x1="960.875" y1="1706.7" x2="960.875" y2="1697.7" stroke="#000" stroke-width="3"/>
<text transform="translate(961.375,1758.5) scale(0.94,1)" text-anchor="middle" font-size="37" font-family='"Liberation Serif", serif'>30</text>
<line x1="1084.75" y1="1706.7" x2="1084.75" y2="1697.7" stroke="#000" stroke-width="3"/>
<text transform="translate(1085.25,1758.5) scale(0.94,1)" text-anchor="middle" font-size="37" font-family='"Liberation Serif", serif'>60</text>
<line x1="1208.625" y1="1706.7" x2="1208.625" y2="1697.7" stroke="#000" stroke-width="3"/>
<text transform="translate(1209.125,1758.5) scale(0.94,1)" text-anchor="middle" font-size="37" font-family='"Liberation Serif", serif'>90</text>
<text transform="translate(1333.0,1758.5) scale(0.94,1)" text-anchor="middle" font-size="37" font-family='"Liberation Serif", serif'>120</text>
<text x="1095" y="1804" text-anchor="middle" font-size="36" font-weight="normal" font-family='"Liberation Serif", serif' textLength="229" lengthAdjust="spacingAndGlyphs" >AOU(μmol kg<tspan baseline-shift="super" font-size="22">-1</tspan>)</text>
<text transform="translate(736,1471.8) rotate(-90)" text-anchor="middle" font-size="36" font-family='"Liberation Serif", serif' textLength="274" lengthAdjust="spacingAndGlyphs">ΔDIC<tspan font-size="24" dy="8">bio</tspan><tspan dy="-8">(μmol kg</tspan><tspan baseline-shift="super" font-size="22">-1</tspan>)</text>
<circle cx="1037.1" cy="1515.4" r="5.7" fill="#8b8b8b" stroke="#2e2e2e" stroke-width="1.5"/>
<circle cx="978.7" cy="1528.8" r="5.7" fill="#8b8b8b" stroke="#2e2e2e" stroke-width="1.5"/>
<circle cx="998.2" cy="1537.4" r="5.7" fill="#8b8b8b" stroke="#2e2e2e" stroke-width="1.5"/>
<circle cx="1025.6" cy="1545.1" r="5.7" fill="#8b8b8b" stroke="#2e2e2e" stroke-width="1.5"/>
<circle cx="1030.4" cy="1550.8" r="5.7" fill="#8b8b8b" stroke="#2e2e2e" stroke-width="1.5"/>
<circle cx="913.2" cy="1563.3" r="5.7" fill="#8b8b8b" stroke="#2e2e2e" stroke-width="1.5"/>
<circle cx="938.1" cy="1564.6" r="5.7" fill="#8b8b8b" stroke="#2e2e2e" stroke-width="1.5"/>
<circle cx="1039" cy="1575.7" r="5.7" fill="#8b8b8b" stroke="#2e2e2e" stroke-width="1.5"/>
<circle cx="1076" cy="1571.9" r="5.7" fill="#8b8b8b" stroke="#2e2e2e" stroke-width="1.5"/>
<circle cx="951.9" cy="1588.2" r="5.7" fill="#8b8b8b" stroke="#2e2e2e" stroke-width="1.5"/>
<circle cx="939.5" cy="1592" r="5.7" fill="#8b8b8b" stroke="#2e2e2e" stroke-width="1.5"/>
<circle cx="970.7" cy="1588.2" r="5.7" fill="#8b8b8b" stroke="#2e2e2e" stroke-width="1.5"/>
<circle cx="997.5" cy="1589.5" r="5.7" fill="#8b8b8b" stroke="#2e2e2e" stroke-width="1.5"/>
<circle cx="888.7" cy="1601.6" r="5.7" fill="#8b8b8b" stroke="#2e2e2e" stroke-width="1.5"/>
<circle cx="944.2" cy="1602.5" r="5.7" fill="#8b8b8b" stroke="#2e2e2e" stroke-width="1.5"/>
<circle cx="954.2" cy="1601.2" r="5.7" fill="#8b8b8b" stroke="#2e2e2e" stroke-width="1.5"/>
<circle cx="944.2" cy="1608.3" r="5.7" fill="#8b8b8b" stroke="#2e2e2e" stroke-width="1.5"/>
<circle cx="924.7" cy="1622.6" r="5.7" fill="#8b8b8b" stroke="#2e2e2e" stroke-width="1.5"/>
<circle cx="886.8" cy="1627.4" r="5.7" fill="#8b8b8b" stroke="#2e2e2e" stroke-width="1.5"/>
<circle cx="977.7" cy="1624.6" r="5.7" fill="#8b8b8b" stroke="#2e2e2e" stroke-width="1.5"/>
<circle cx="898.3" cy="1639.5" r="5.7" fill="#8b8b8b" stroke="#2e2e2e" stroke-width="1.5"/>
<circle cx="960.5" cy="1657.7" r="5.7" fill="#8b8b8b" stroke="#2e2e2e" stroke-width="1.5"/>
<path d="M1036.5 1494.0L1042.0 1499.5L1036.5 1505.0L1031.0 1499.5Z" fill="#d9541e" stroke="#a03c10" stroke-width="1"/>
<path d="M987.9 1539.6L993.4 1545.1L987.9 1550.6L982.4 1545.1Z" fill="#d9541e" stroke="#a03c10" stroke-width="1"/>
<path d="M1040.4 1543.8L1045.9 1549.3L1040.4 1554.8L1034.9 1549.3Z" fill="#d9541e" stroke="#a03c10" stroke-width="1"/>
<path d="M1003.2 1560.7L1008.7 1566.2L1003.2 1571.7L997.7 1566.2Z" fill="#d9541e" stroke="#a03c10" stroke-width="1"/>
<path d="M995.6 1572.5L1001.1 1578.0L995.6 1583.5L990.1 1578.0Z" fill="#d9541e" stroke="#a03c10" stroke-width="1"/>
<path d="M997.5 1598.6L1003.0 1604.1L997.5 1609.6L992.0 1604.1Z" fill="#d9541e" stroke="#a03c10" stroke-width="1"/>
<path d="M1010.3 1605.3L1015.8 1610.8L1010.3 1616.3L1004.8 1610.8Z" fill="#d9541e" stroke="#a03c10" stroke-width="1"/>
<path d="M1024.7 1604.7L1030.2 1610.2L1024.7 1615.7L1019.2 1610.2Z" fill="#d9541e" stroke="#a03c10" stroke-width="1"/>
<path d="M989.8 1617.1L995.3 1622.6L989.8 1628.1L984.3 1622.6Z" fill="#d9541e" stroke="#a03c10" stroke-width="1"/>
<path d="M967.2 1626.3L972.7 1631.8L967.2 1637.3L961.7 1631.8Z" fill="#d9541e" stroke="#a03c10" stroke-width="1"/>
<path d="M1093.2 1586.5L1098.7 1592.0L1093.2 1597.5L1087.7 1592.0Z" fill="#d9541e" stroke="#a03c10" stroke-width="1"/>
<path d="M1220.0 1395.2L1225.5 1400.7L1220.0 1406.2L1214.5 1400.7Z" fill="#d9541e" stroke="#a03c10" stroke-width="1"/>
<path d="M1247.7 1423.3L1253.2 1428.8L1247.7 1434.3L1242.2 1428.8Z" fill="#d9541e" stroke="#a03c10" stroke-width="1"/>
<path d="M1171.2 1447.6L1176.7 1453.1L1171.2 1458.6L1165.7 1453.1Z" fill="#d9541e" stroke="#a03c10" stroke-width="1"/>
<path d="M1208.5 1442.5L1214.0 1448.0L1208.5 1453.5L1203.0 1448.0Z" fill="#d9541e" stroke="#a03c10" stroke-width="1"/>
<path d="M830 1710.5L837 1705L843 1710Z" fill="#aaa"/><line x1="830" y1="1710" x2="837" y2="1705" stroke="#111" stroke-width="3"/>
<line x1="841" y1="1702" x2="1236" y2="1430" stroke="#111" stroke-width="3.4" stroke-dasharray="6.3 8.2" stroke-linecap="round"/>
</g>
</svg></body></html>
